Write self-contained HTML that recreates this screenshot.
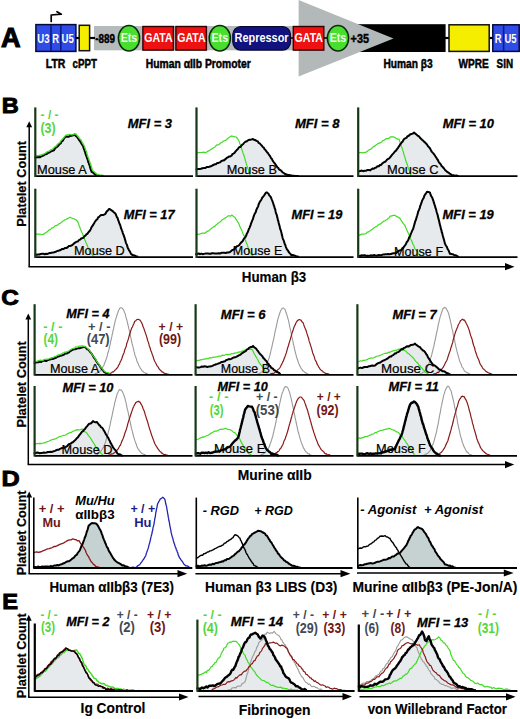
<!DOCTYPE html>
<html><head><meta charset="utf-8"><title>Figure</title>
<style>
html,body{margin:0;padding:0;background:#fff;width:520px;height:719px;overflow:hidden;}
svg text{font-family:"Liberation Sans", sans-serif;}
</style></head>
<body>
<svg width="520" height="719" viewBox="0 0 520 719" style="display:block">
<g font-family='"Liberation Sans", sans-serif'>
<text x="1.0" y="46.8" font-size="27.5" font-weight="bold" fill="#000" text-anchor="start" textLength="19.6" lengthAdjust="spacingAndGlyphs" stroke="#000" stroke-width="1.1">A</text>
<rect x="94" y="26" width="210" height="24.3" fill="#b5babb"/>
<rect x="330" y="24.2" width="115.6" height="27.8" fill="#000"/>
<polygon points="298.6,0 393.5,38.4 298.6,76.5" fill="#b3b8b9"/>
<line x1="75" y1="38" x2="80" y2="38" stroke="#000" stroke-width="2.2"/>
<line x1="89" y1="38" x2="95" y2="38" stroke="#000" stroke-width="2.2"/>
<line x1="444" y1="38" x2="449" y2="38" stroke="#000" stroke-width="2.2"/>
<line x1="489" y1="38" x2="493" y2="38" stroke="#000" stroke-width="2.2"/>
<rect x="35.9" y="24.6" width="40" height="26.8" fill="#2f4de6" stroke="#05083a" stroke-width="1.5"/>
<line x1="51" y1="25" x2="51" y2="51" stroke="#0c1a8a" stroke-width="1.6"/>
<line x1="60.8" y1="25" x2="60.8" y2="51" stroke="#0c1a8a" stroke-width="1.6"/>
<text x="37.3" y="43.0" font-size="12.5" font-weight="bold" fill="#fff" text-anchor="start" textLength="12.2" lengthAdjust="spacingAndGlyphs">U3</text>
<text x="52.3" y="43.0" font-size="12.5" font-weight="bold" fill="#fff" text-anchor="start" textLength="6.8" lengthAdjust="spacingAndGlyphs">R</text>
<text x="61.6" y="43.0" font-size="12.5" font-weight="bold" fill="#fff" text-anchor="start" textLength="12.2" lengthAdjust="spacingAndGlyphs">U5</text>
<path d="M51.2,21.4 V15.0 L61.3,14.2 L57.0,11.7" fill="none" stroke="#000" stroke-width="1.7" stroke-linejoin="round" stroke-linecap="round"/>
<rect x="79.2" y="25.3" width="10.4" height="25.4" fill="#f6ee00" stroke="#111" stroke-width="1.5"/>
<text x="95.2" y="43.3" font-size="12.8" font-weight="bold" fill="#000" text-anchor="start" textLength="19.8" lengthAdjust="spacingAndGlyphs" stroke="#000" stroke-width="0.45">-889</text>
<ellipse cx="129.0" cy="38.2" rx="10.6" ry="12.7" fill="#47de2e" stroke="#0a2a0a" stroke-width="1.5"/>
<text x="120.7" y="42.0" font-size="12.5" font-weight="bold" fill="#eefde8" text-anchor="start" textLength="16.6" lengthAdjust="spacingAndGlyphs">Ets</text>
<rect x="142.89999999999998" y="26.5" width="30.5" height="23.6" fill="#ee1111" stroke="#300" stroke-width="1.4"/>
<text x="144.2" y="42.0" font-size="12.5" font-weight="bold" fill="#fff" text-anchor="start" textLength="28.4" lengthAdjust="spacingAndGlyphs">GATA</text>
<rect x="175.89999999999998" y="26.5" width="30.5" height="23.6" fill="#ee1111" stroke="#300" stroke-width="1.4"/>
<text x="177.2" y="42.0" font-size="12.5" font-weight="bold" fill="#fff" text-anchor="start" textLength="28.4" lengthAdjust="spacingAndGlyphs">GATA</text>
<ellipse cx="219.8" cy="38.2" rx="10.6" ry="12.7" fill="#47de2e" stroke="#0a2a0a" stroke-width="1.5"/>
<text x="211.5" y="42.0" font-size="12.5" font-weight="bold" fill="#eefde8" text-anchor="start" textLength="16.6" lengthAdjust="spacingAndGlyphs">Ets</text>
<rect x="232.8" y="26.5" width="57.7" height="23.6" rx="8" ry="8" fill="#12127e" stroke="#050530" stroke-width="1.2"/>
<text x="234.6" y="42.0" font-size="12.5" font-weight="bold" fill="#fff" text-anchor="start" textLength="54.0" lengthAdjust="spacingAndGlyphs">Repressor</text>
<line x1="290.4" y1="38" x2="293.2" y2="38" stroke="#000" stroke-width="1.6"/>
<rect x="293.3" y="26.5" width="30.5" height="23.6" fill="#ee1111" stroke="#300" stroke-width="1.4"/>
<text x="294.6" y="42.0" font-size="12.5" font-weight="bold" fill="#fff" text-anchor="start" textLength="28.4" lengthAdjust="spacingAndGlyphs">GATA</text>
<line x1="323.8" y1="38" x2="327.6" y2="38" stroke="#000" stroke-width="1.6"/>
<ellipse cx="338.0" cy="38.2" rx="10.6" ry="12.7" fill="#47de2e" stroke="#0a2a0a" stroke-width="1.5"/>
<text x="329.7" y="42.0" font-size="12.5" font-weight="bold" fill="#eefde8" text-anchor="start" textLength="16.6" lengthAdjust="spacingAndGlyphs">Ets</text>
<text x="350.6" y="43.2" font-size="12.8" font-weight="bold" fill="#000" text-anchor="start" textLength="18.4" lengthAdjust="spacingAndGlyphs" stroke="#000" stroke-width="0.45">+35</text>
<rect x="449.0" y="24.8" width="40.2" height="26.6" fill="#f6ee00" stroke="#111" stroke-width="1.5"/>
<rect x="492.8" y="24.8" width="26.4" height="26.6" fill="#2f4de6" stroke="#05083a" stroke-width="1.5"/>
<line x1="503.6" y1="25" x2="503.6" y2="51" stroke="#0c1a8a" stroke-width="1.6"/>
<text x="494.8" y="42.8" font-size="12.5" font-weight="bold" fill="#fff" text-anchor="start" textLength="6.8" lengthAdjust="spacingAndGlyphs">R</text>
<text x="504.6" y="42.8" font-size="12.5" font-weight="bold" fill="#fff" text-anchor="start" textLength="12.0" lengthAdjust="spacingAndGlyphs">U5</text>
<text x="45.8" y="67.8" font-size="13.2" font-weight="bold" fill="#000" text-anchor="start" textLength="19.6" lengthAdjust="spacingAndGlyphs" stroke="#000" stroke-width="0.5">LTR</text>
<text x="72.6" y="67.8" font-size="13.2" font-weight="bold" fill="#000" text-anchor="start" textLength="24.4" lengthAdjust="spacingAndGlyphs" stroke="#000" stroke-width="0.5">cPPT</text>
<text x="145.8" y="67.8" font-size="13.2" font-weight="bold" fill="#000" text-anchor="start" textLength="105.0" lengthAdjust="spacingAndGlyphs" stroke="#000" stroke-width="0.5">Human &#945;IIb Promoter</text>
<text x="383.4" y="67.8" font-size="13.2" font-weight="bold" fill="#000" text-anchor="start" textLength="49.2" lengthAdjust="spacingAndGlyphs" stroke="#000" stroke-width="0.5">Human &#946;3</text>
<text x="458.6" y="67.8" font-size="13.2" font-weight="bold" fill="#000" text-anchor="start" textLength="30.2" lengthAdjust="spacingAndGlyphs" stroke="#000" stroke-width="0.5">WPRE</text>
<text x="496.6" y="67.8" font-size="13.2" font-weight="bold" fill="#000" text-anchor="start" textLength="16.4" lengthAdjust="spacingAndGlyphs" stroke="#000" stroke-width="0.5">SIN</text>
<text x="1.8" y="113.4" font-size="21.5" font-weight="bold" fill="#000" text-anchor="start" textLength="17.0" lengthAdjust="spacingAndGlyphs" stroke="#000" stroke-width="0.9">B</text>
<text transform="translate(26.0,226.7) rotate(-90)" x="0" y="0" font-size="13.2" font-weight="bold" stroke="#000" stroke-width="0.2" textLength="85.7" lengthAdjust="spacingAndGlyphs">Platelet Count</text>
<line x1="29.2" y1="126" x2="29.2" y2="266.7" stroke="#000" stroke-width="1.5"/>
<polygon points="29.2,121.3 26.3,127.3 32.1,127.3" fill="#000"/>
<line x1="28.5" y1="266.7" x2="506" y2="266.7" stroke="#000" stroke-width="1.5"/>
<polygon points="514.5,266.7 505.0,263.09999999999997 505.0,270.3" fill="#000"/>
<polygon points="35.5,176.2 35.5,157.5 40.0,157.2 45.4,154.6 53.0,150.8 60.8,143.0 65.4,137.0 70.0,136.2 74.6,134.6 79.2,140.0 83.0,146.0 86.2,155.4 89.2,164.6 91.5,171.5 96.0,175.0 102.0,175.8 102.0,176.2" fill="#e6eaec" stroke="none"/>
<polyline points="35.5,157.5 37.0,157.2 38.5,157.0 40.0,157.3 41.4,156.2 42.7,155.9 44.0,155.1 45.4,154.2 46.7,154.0 47.9,152.9 49.2,152.6 50.5,151.7 51.7,151.1 53.0,150.7 54.0,150.1 55.0,148.5 55.9,147.6 56.9,147.0 57.9,146.3 58.8,145.0 59.8,143.9 60.8,143.4 61.7,141.4 62.6,140.9 63.6,139.2 64.5,137.9 65.4,136.7 66.9,136.6 68.5,136.8 70.0,135.9 71.5,135.7 73.1,135.3 74.6,134.5 75.5,135.7 76.4,136.4 77.4,137.4 78.3,138.7 79.2,140.2 80.0,141.1 80.7,142.2 81.5,143.7 82.2,144.8 83.0,145.8 83.5,147.6 83.9,148.9 84.4,149.8 84.8,151.4 85.3,152.7 85.7,154.4 86.2,155.6 86.6,156.5 87.1,158.5 87.5,159.0 87.9,160.6 88.3,162.2 88.8,163.0 89.2,164.6 89.7,165.6 90.1,167.5 90.6,169.0 91.0,170.2 91.5,171.8 92.6,172.2 93.8,173.4 94.9,174.2 96.0,175.1 97.5,175.2 99.0,175.7 100.5,176.0 102.0,175.8" fill="none" stroke="#000" stroke-width="2.0" stroke-linejoin="round" stroke-linecap="round"/>
<polyline points="35.5,155.8 37.0,155.7 38.5,155.7 40.0,155.1 41.4,155.0 42.7,154.3 44.0,154.0 45.4,153.2 46.7,152.1 47.9,151.5 49.2,151.2 50.5,149.9 51.7,149.7 53.0,148.8 54.0,147.8 55.0,146.8 55.9,146.4 56.9,144.9 57.9,144.0 58.8,143.2 59.8,142.6 60.8,140.9 61.7,140.1 62.6,138.9 63.6,138.0 64.5,136.8 65.4,135.6 66.9,134.8 68.5,134.7 70.0,134.4 71.5,134.8 72.9,134.8 74.4,134.0 75.9,134.0 76.8,135.1 77.7,136.2 78.7,137.5 79.6,138.7 80.5,139.5 81.3,140.5 82.0,142.0 82.8,143.2 83.5,144.6 84.3,146.1 84.8,147.2 85.2,148.4 85.7,149.8 86.1,151.2 86.6,152.0 87.0,154.1 87.5,155.4 87.9,156.8 88.4,158.0 88.8,158.9 89.2,160.3 89.6,161.3 90.1,163.1 90.5,163.9 91.0,165.3 91.4,166.8 91.9,168.1 92.3,169.7 92.8,170.8 93.9,171.6 95.0,172.6 96.2,173.5 97.3,174.6 98.8,174.5 100.3,175.4 101.8,175.4 103.3,175.5" fill="none" stroke="#40dc24" stroke-width="1.3" stroke-linejoin="round" stroke-linecap="round"/>
<polygon points="196.5,176.2 196.5,169.2 205.4,167.7 214.6,164.6 223.8,160.0 231.5,155.4 237.7,149.2 242.3,144.6 245.4,141.5 248.5,140.3 253.0,139.2 257.7,141.5 263.8,147.7 268.0,153.5 274.0,162.4 279.0,169.3 285.0,173.9 292.0,175.6 298.0,176.0 298.0,176.2" fill="#e6eaec" stroke="none"/>
<polyline points="197.0,153.0 198.3,152.6 199.7,152.5 201.0,152.5 202.3,152.4 203.7,152.1 205.0,152.6 206.2,152.3 207.5,151.4 208.8,150.9 210.0,150.1 211.2,149.2 212.4,148.6 213.6,147.6 214.8,147.2 216.0,145.7 217.2,144.8 218.5,144.9 219.8,143.8 221.0,142.7 222.1,142.3 223.2,141.1 224.3,140.8 225.4,140.4 226.6,139.5 227.8,138.5 229.0,137.3 230.2,136.7 231.5,135.9 234.0,136.7 236.0,137.0 237.7,138.8 238.5,140.1 239.3,141.8 239.8,143.6 240.3,145.1 240.8,146.3 241.2,147.6 241.7,149.0 242.1,150.2 242.5,151.1 242.9,152.7 243.4,153.9 243.8,155.0 244.2,156.3 244.7,157.9 245.1,159.3 245.5,161.0 246.0,162.6 246.4,163.6 246.8,165.4 247.3,166.8 247.7,168.1 248.1,168.9 248.5,170.0 248.8,171.3 249.2,172.6 249.6,173.9 250.0,175.4" fill="none" stroke="#40dc24" stroke-width="1.2" stroke-linejoin="round" stroke-linecap="round"/>
<polyline points="196.5,169.2 198.0,169.1 199.5,169.1 200.9,168.8 202.4,168.2 203.9,168.1 205.4,168.0 206.7,166.9 208.0,167.0 209.3,166.7 210.7,166.2 212.0,165.7 213.3,165.0 214.6,164.3 215.9,164.2 217.2,163.1 218.5,162.9 219.9,162.4 221.2,161.2 222.5,160.6 223.8,160.4 225.1,159.4 226.4,158.2 227.7,157.4 228.9,156.6 230.2,156.5 231.5,155.7 232.5,154.0 233.6,153.6 234.6,152.7 235.6,151.4 236.7,150.1 237.7,149.2 238.6,147.9 239.5,146.9 240.5,146.9 241.4,145.7 242.3,144.6 243.3,144.0 244.4,142.5 245.4,141.8 246.9,141.2 248.5,140.0 250.0,139.7 251.5,139.4 253.0,139.0 254.2,139.9 255.3,140.1 256.5,140.9 257.7,141.2 258.7,142.9 259.7,143.4 260.8,144.6 261.8,145.7 262.8,147.0 263.8,147.6 264.6,149.2 265.5,150.0 266.3,151.2 267.2,152.4 268.0,153.1 268.8,154.6 269.5,155.4 270.2,156.4 271.0,158.2 271.8,158.8 272.5,160.2 273.2,161.5 274.0,162.5 274.8,163.4 275.7,164.7 276.5,165.9 277.3,167.3 278.2,167.8 279.0,169.4 280.2,170.0 281.4,170.9 282.6,172.3 283.8,173.0 285.0,174.0 286.4,174.5 287.8,175.0 289.2,174.9 290.6,175.4 292.0,175.6 293.5,175.7 295.0,176.0 296.5,175.9 298.0,176.0" fill="none" stroke="#000" stroke-width="2.0" stroke-linejoin="round" stroke-linecap="round"/>
<polygon points="359.0,176.2 359.0,171.2 370.0,170.2 380.0,165.4 390.0,157.7 398.0,148.0 404.0,139.4 410.0,134.6 414.0,132.7 418.0,135.5 421.0,138.5 428.0,146.0 435.0,155.8 440.0,163.5 445.0,170.2 452.0,175.5 458.0,176.0 458.0,176.2" fill="#e6eaec" stroke="none"/>
<polyline points="358.5,152.9 360.0,152.7 361.5,152.5 363.0,152.8 364.5,152.4 366.0,152.3 367.1,151.6 368.2,150.3 369.4,149.8 370.5,149.4 371.6,148.6 372.8,147.2 373.9,146.4 375.0,145.9 376.1,144.9 377.2,144.3 378.3,143.4 379.4,143.2 380.6,142.6 381.7,142.0 382.8,140.6 383.9,140.3 385.0,139.5 386.4,138.5 387.8,138.6 389.2,138.1 390.6,136.8 392.0,136.9 393.5,136.9 395.0,137.5 396.3,138.6 397.7,139.1 399.0,139.1 399.4,140.6 399.9,141.9 400.3,142.9 400.7,144.0 401.1,145.4 401.6,147.0 402.0,147.6 402.4,149.4 402.9,150.7 403.3,151.7 403.7,153.4 404.1,155.0 404.6,156.3 405.0,157.3 405.4,159.5 405.9,160.7 406.3,162.2 406.7,162.8 407.1,164.3 407.6,165.5 408.0,167.6 408.5,168.5 409.0,169.7 409.5,171.3 410.0,173.1 410.5,174.4 411.0,175.5" fill="none" stroke="#40dc24" stroke-width="1.2" stroke-linejoin="round" stroke-linecap="round"/>
<polyline points="359.0,171.2 360.4,170.9 361.8,170.6 363.1,171.2 364.5,170.8 365.9,170.8 367.2,170.1 368.6,169.9 370.0,170.4 371.2,169.5 372.5,168.6 373.8,168.8 375.0,167.9 376.2,167.5 377.5,166.2 378.8,166.3 380.0,165.0 381.1,164.9 382.2,163.6 383.3,162.7 384.4,162.0 385.6,161.5 386.7,160.1 387.8,159.1 388.9,158.6 390.0,157.5 390.9,156.3 391.8,155.2 392.7,154.1 393.6,153.1 394.4,152.1 395.3,151.1 396.2,150.4 397.1,148.9 398.0,148.0 398.8,146.6 399.5,145.7 400.2,144.3 401.0,143.5 401.8,142.2 402.5,141.8 403.2,140.5 404.0,139.1 405.2,138.4 406.4,137.9 407.6,136.2 408.8,135.8 410.0,134.5 411.3,134.0 412.7,133.6 414.0,132.6 415.3,133.6 416.7,134.7 418.0,135.9 419.0,136.4 420.0,137.8 421.0,138.7 422.0,139.7 423.0,140.6 424.0,141.6 425.0,142.4 426.0,143.5 427.0,144.5 428.0,146.2 428.8,146.9 429.6,147.9 430.3,148.9 431.1,150.7 431.9,151.8 432.7,152.7 433.4,153.4 434.2,154.5 435.0,155.6 435.7,156.9 436.4,157.7 437.1,159.1 437.9,160.0 438.6,161.7 439.3,162.8 440.0,163.5 440.8,164.4 441.7,166.2 442.5,166.7 443.3,167.8 444.2,168.6 445.0,170.1 446.2,171.1 447.3,172.0 448.5,172.6 449.7,173.7 450.8,174.2 452.0,175.3 453.5,175.3 455.0,175.7 456.5,175.5 458.0,176.0" fill="none" stroke="#000" stroke-width="2.0" stroke-linejoin="round" stroke-linecap="round"/>
<polygon points="35.4,257.2 35.4,254.6 48.8,253.7 58.5,250.8 70.0,246.0 77.7,241.2 83.5,237.3 89.2,231.5 95.0,221.9 99.8,215.7 104.6,214.2 107.5,210.9 109.4,208.5 112.3,210.9 115.2,213.8 117.6,218.1 119.5,223.8 121.4,228.7 123.8,235.4 125.8,242.1 128.2,248.8 131.0,253.7 134.4,255.6 137.3,256.5 137.3,257.2" fill="#e6eaec" stroke="none"/>
<polyline points="35.4,234.4 36.9,234.0 38.4,234.2 40.0,234.2 41.5,234.5 43.0,234.4 44.1,233.9 45.2,233.1 46.2,232.4 47.3,231.8 48.4,230.6 49.5,229.8 50.5,229.6 51.6,228.1 52.7,227.9 54.0,227.0 55.3,225.7 56.5,225.6 57.8,224.9 59.1,223.8 60.4,223.1 61.6,222.4 62.7,221.0 63.9,220.6 65.0,219.8 66.2,219.3 67.5,218.6 68.7,218.0 70.0,217.2 71.6,218.1 73.2,218.5 74.8,219.2 75.8,219.7 76.7,220.5 77.7,221.6 78.2,223.1 78.8,224.3 79.3,226.3 79.9,227.4 80.4,228.9 81.0,230.2 81.5,231.7 82.0,232.7 82.5,233.5 83.0,235.4 83.5,236.6 83.9,237.6 84.4,238.8 84.9,240.1 85.4,240.8 85.9,242.7 86.5,243.5 87.0,244.7 87.5,246.1 88.1,247.8 88.6,248.6 89.1,250.4 89.7,251.9 90.2,252.7 91.2,253.5 92.1,254.6 93.0,255.7 94.0,256.5" fill="none" stroke="#40dc24" stroke-width="1.2" stroke-linejoin="round" stroke-linecap="round"/>
<polyline points="35.4,254.6 36.7,254.8 38.1,254.5 39.4,254.5 40.8,253.9 42.1,253.8 43.4,253.8 44.8,254.2 46.1,253.7 47.5,253.9 48.8,253.3 50.2,252.9 51.6,252.7 53.0,252.6 54.3,252.2 55.7,251.8 57.1,251.0 58.5,250.8 59.8,250.2 61.1,249.7 62.3,248.9 63.6,249.0 64.9,247.9 66.2,248.0 67.4,247.5 68.7,246.1 70.0,246.0 71.3,245.5 72.6,244.8 73.8,243.6 75.1,242.6 76.4,241.7 77.7,241.6 78.9,240.2 80.0,239.7 81.2,238.5 82.3,238.1 83.5,237.7 84.5,236.0 85.4,235.7 86.3,234.4 87.3,233.8 88.2,232.6 89.2,231.3 89.9,230.7 90.7,229.1 91.4,227.5 92.1,226.3 92.8,225.5 93.5,224.3 94.3,222.9 95.0,221.6 95.8,220.7 96.6,219.7 97.4,219.1 98.2,217.3 99.0,217.0 99.8,216.0 101.4,214.9 103.0,215.1 104.6,214.4 105.6,213.5 106.5,211.8 107.5,210.8 108.5,209.6 109.4,208.9 110.8,209.8 112.3,210.8 113.3,211.8 114.2,212.6 115.2,213.3 116.0,214.8 116.8,217.0 117.6,217.9 118.1,219.9 118.5,220.7 119.0,222.2 119.5,223.8 120.0,224.7 120.5,226.1 120.9,227.9 121.4,229.0 121.9,230.3 122.4,231.5 122.8,233.1 123.3,234.5 123.8,235.4 124.2,236.9 124.6,237.7 125.0,239.6 125.4,240.7 125.8,242.3 126.3,243.6 126.8,244.6 127.2,245.7 127.7,247.8 128.2,248.5 128.9,250.0 129.6,251.1 130.3,252.3 131.0,253.9 132.7,255.1 134.4,255.4 135.9,256.2 137.3,256.5" fill="none" stroke="#000" stroke-width="2.0" stroke-linejoin="round" stroke-linecap="round"/>
<polygon points="196.0,257.2 196.0,254.0 220.0,253.4 230.0,252.0 239.2,245.0 245.4,237.3 250.0,226.5 254.6,214.2 259.2,203.5 262.3,197.3 266.9,191.9 270.8,197.3 273.8,205.0 276.9,215.8 280.0,228.0 283.0,238.8 286.9,249.6 291.5,255.0 298.0,256.6 298.0,257.2" fill="#e6eaec" stroke="none"/>
<polyline points="196.0,234.8 197.3,234.4 198.6,234.3 199.9,233.9 201.1,233.5 202.4,233.2 203.7,233.0 205.0,233.4 206.1,232.2 207.2,231.2 208.3,231.1 209.4,230.4 210.6,229.2 211.7,228.1 212.8,227.4 213.9,226.6 215.0,226.1 216.0,224.9 217.0,224.2 218.0,223.3 219.0,222.7 220.0,222.1 221.0,221.1 222.0,219.9 223.2,219.2 224.4,218.5 225.6,217.7 226.8,216.9 228.0,215.9 229.3,215.8 230.7,216.1 232.0,215.1 233.5,216.5 235.0,217.6 235.7,219.0 236.4,219.6 237.1,220.8 237.8,221.9 238.5,223.2 239.2,224.5 239.7,226.1 240.2,227.2 240.7,228.4 241.2,228.9 241.8,230.1 242.3,231.9 242.8,233.3 243.3,234.1 243.8,235.4 244.2,236.1 244.7,237.7 245.1,239.4 245.6,240.6 246.0,241.8 246.5,243.2 246.9,243.8 247.4,245.1 247.8,246.6 248.3,248.3 248.7,249.9 249.2,251.6 250.0,252.5 250.7,253.5 251.5,254.6 252.2,255.4 253.0,256.5" fill="none" stroke="#40dc24" stroke-width="1.2" stroke-linejoin="round" stroke-linecap="round"/>
<polyline points="196.0,254.0 197.3,254.0 198.7,253.5 200.0,254.2 201.3,253.6 202.7,254.2 204.0,253.9 205.3,253.6 206.7,253.4 208.0,253.5 209.3,253.8 210.7,253.8 212.0,253.3 213.3,253.2 214.7,253.6 216.0,253.6 217.3,253.4 218.7,253.2 220.0,253.5 221.4,252.8 222.9,252.8 224.3,252.8 225.7,253.0 227.1,252.5 228.6,252.5 230.0,252.0 231.2,250.9 232.3,250.0 233.4,249.8 234.6,248.7 235.8,247.5 236.9,246.3 238.0,245.9 239.2,245.2 240.1,243.8 241.0,242.6 241.9,241.9 242.7,241.0 243.6,239.3 244.5,238.0 245.4,237.2 245.9,236.0 246.4,235.1 246.9,233.4 247.4,232.8 248.0,231.5 248.5,230.1 249.0,228.6 249.5,228.1 250.0,226.3 250.5,225.6 250.9,223.8 251.4,222.6 251.8,221.8 252.3,220.2 252.8,219.5 253.2,217.9 253.7,216.4 254.1,215.2 254.6,214.1 255.2,213.0 255.8,211.9 256.3,209.9 256.9,208.8 257.5,207.3 258.1,206.6 258.6,204.5 259.2,203.1 259.8,201.9 260.4,200.9 261.1,200.1 261.7,198.9 262.3,197.5 263.2,196.7 264.1,195.5 265.1,193.9 266.0,192.7 266.9,192.3 267.7,193.2 268.5,193.6 269.2,195.3 270.0,196.1 270.8,197.2 271.3,198.4 271.8,199.6 272.3,200.7 272.8,202.2 273.3,203.6 273.8,205.4 274.2,206.0 274.6,208.1 275.0,208.8 275.4,210.3 275.7,212.0 276.1,213.4 276.5,214.4 276.9,215.4 277.2,217.1 277.6,218.4 277.9,220.2 278.3,220.9 278.6,222.5 279.0,224.3 279.3,224.9 279.7,226.6 280.0,228.3 280.4,229.6 280.8,230.3 281.1,231.6 281.5,233.0 281.9,235.1 282.2,235.9 282.6,237.7 283.0,239.2 283.5,240.0 284.0,241.3 284.5,243.3 284.9,244.3 285.4,245.3 285.9,247.1 286.4,248.1 286.9,249.4 287.8,250.2 288.7,252.0 289.7,253.2 290.6,254.0 291.5,255.4 292.8,254.9 294.1,255.4 295.4,255.9 296.7,256.7 298.0,256.6" fill="none" stroke="#000" stroke-width="2.0" stroke-linejoin="round" stroke-linecap="round"/>
<polygon points="358.5,257.2 358.5,255.8 380.0,255.2 395.0,253.5 403.0,248.6 408.0,240.5 413.0,229.0 418.0,212.7 422.0,201.2 425.0,194.7 427.0,191.4 430.0,193.0 433.0,199.6 437.0,212.7 441.0,229.0 445.0,243.7 450.0,253.5 458.0,256.6 458.0,257.2" fill="#e6eaec" stroke="none"/>
<polyline points="358.5,234.9 359.8,235.1 361.1,234.4 362.4,234.1 363.7,234.1 365.0,234.0 366.1,233.7 367.2,232.2 368.3,232.1 369.4,231.3 370.6,230.6 371.7,229.8 372.8,229.0 373.9,228.0 375.0,227.2 376.1,226.5 377.2,226.2 378.3,224.8 379.4,224.2 380.6,224.0 381.7,222.8 382.8,221.9 383.9,221.1 385.0,220.8 386.0,219.8 387.0,219.6 388.0,218.6 389.0,217.9 390.0,216.4 391.7,215.8 393.3,215.4 395.0,215.3 396.2,216.3 397.5,216.9 398.8,217.5 400.0,218.5 400.8,219.9 401.7,221.2 402.5,222.4 403.3,223.7 404.2,224.7 405.0,225.5 405.6,227.4 406.1,228.1 406.7,229.7 407.2,230.8 407.8,232.3 408.3,233.1 408.9,234.4 409.4,235.7 410.0,236.9 410.6,238.8 411.1,239.8 411.7,240.8 412.2,242.2 412.8,244.0 413.3,244.8 413.9,245.8 414.4,247.6 415.0,248.7 415.8,250.2 416.7,250.5 417.5,252.0 418.3,253.5 419.2,254.7 420.0,255.5" fill="none" stroke="#40dc24" stroke-width="1.2" stroke-linejoin="round" stroke-linecap="round"/>
<polyline points="358.5,255.8 359.8,256.1 361.2,255.3 362.5,255.5 363.9,255.3 365.2,255.3 366.6,256.0 367.9,255.6 369.2,255.9 370.6,255.3 371.9,255.8 373.3,255.3 374.6,255.1 376.0,255.6 377.3,255.7 378.7,254.9 380.0,255.3 381.4,255.2 382.7,254.6 384.1,254.6 385.5,254.3 386.8,254.2 388.2,254.1 389.5,254.2 390.9,254.1 392.3,253.5 393.6,253.2 395.0,253.3 396.1,253.0 397.3,251.8 398.4,251.2 399.6,250.4 400.7,250.3 401.9,249.3 403.0,248.2 403.7,247.1 404.4,246.2 405.1,245.2 405.9,244.1 406.6,242.4 407.3,241.4 408.0,240.7 408.6,239.1 409.1,237.7 409.7,236.5 410.2,235.8 410.8,233.9 411.3,232.9 411.9,231.4 412.4,230.2 413.0,229.3 413.4,228.2 413.8,226.4 414.2,225.0 414.5,224.2 414.9,222.5 415.3,221.0 415.7,220.6 416.1,218.9 416.5,218.0 416.8,216.4 417.2,215.6 417.6,213.9 418.0,212.4 418.4,211.0 418.9,210.2 419.3,209.0 419.8,208.0 420.2,205.9 420.7,205.1 421.1,203.6 421.6,202.5 422.0,200.9 422.6,199.7 423.2,198.6 423.8,197.7 424.4,195.6 425.0,194.7 426.0,193.3 427.0,191.8 428.5,191.9 430.0,192.7 430.6,194.7 431.2,196.1 431.8,196.9 432.4,197.9 433.0,200.0 433.4,200.8 433.8,202.6 434.2,203.6 434.6,205.1 435.0,205.8 435.4,207.7 435.8,208.5 436.2,210.0 436.6,211.7 437.0,213.0 437.3,213.8 437.7,215.2 438.0,216.7 438.3,218.1 438.7,219.4 439.0,220.5 439.3,222.0 439.7,223.8 440.0,225.3 440.3,225.9 440.7,227.7 441.0,229.2 441.4,229.9 441.7,232.0 442.1,232.7 442.5,234.4 442.8,235.7 443.2,237.1 443.5,238.2 443.9,239.6 444.3,241.1 444.6,242.3 445.0,243.8 445.6,244.9 446.2,246.1 446.9,246.9 447.5,248.7 448.1,249.8 448.8,250.8 449.4,252.5 450.0,253.8 451.3,254.0 452.7,254.2 454.0,255.0 455.3,255.2 456.7,255.7 458.0,256.6" fill="none" stroke="#000" stroke-width="2.0" stroke-linejoin="round" stroke-linecap="round"/>
<line x1="35.3" y1="176.2" x2="193.0" y2="176.2" stroke="#000" stroke-width="1.8"/>
<line x1="196.5" y1="176.2" x2="353.5" y2="176.2" stroke="#000" stroke-width="1.8"/>
<line x1="358.2" y1="176.2" x2="517.5" y2="176.2" stroke="#000" stroke-width="1.8"/>
<line x1="35.3" y1="107.4" x2="35.3" y2="177.0" stroke="#163816" stroke-width="2.2"/>
<line x1="196.5" y1="107.4" x2="196.5" y2="177.0" stroke="#163816" stroke-width="2.2"/>
<line x1="358.2" y1="107.4" x2="358.2" y2="177.0" stroke="#163816" stroke-width="2.2"/>
<line x1="35.3" y1="257.2" x2="193.0" y2="257.2" stroke="#000" stroke-width="1.8"/>
<line x1="196.5" y1="257.2" x2="353.5" y2="257.2" stroke="#000" stroke-width="1.8"/>
<line x1="358.2" y1="257.2" x2="517.5" y2="257.2" stroke="#000" stroke-width="1.8"/>
<line x1="35.3" y1="188.7" x2="35.3" y2="258.0" stroke="#163816" stroke-width="2.2"/>
<line x1="196.5" y1="188.7" x2="196.5" y2="258.0" stroke="#163816" stroke-width="2.2"/>
<line x1="358.2" y1="188.7" x2="358.2" y2="258.0" stroke="#163816" stroke-width="2.2"/>
<text x="40.6" y="118.6" font-size="12.5" font-weight="bold" fill="#55d63a" text-anchor="start" textLength="18.0" lengthAdjust="spacingAndGlyphs">- / -</text>
<text x="40.4" y="133.2" font-size="14.5" font-weight="bold" fill="#55d63a" text-anchor="start" textLength="15.2" lengthAdjust="spacingAndGlyphs">(3)</text>
<text x="127.8" y="128.3" font-size="13.4" font-weight="bold" font-style="italic" fill="#000" text-anchor="start" textLength="44.2" lengthAdjust="spacingAndGlyphs" stroke="#000" stroke-width="0.3">MFI = 3</text>
<text x="295.0" y="128.3" font-size="13.4" font-weight="bold" font-style="italic" fill="#000" text-anchor="start" textLength="44.6" lengthAdjust="spacingAndGlyphs" stroke="#000" stroke-width="0.3">MFI = 8</text>
<text x="442.7" y="128.1" font-size="13.4" font-weight="bold" font-style="italic" fill="#000" text-anchor="start" textLength="51.3" lengthAdjust="spacingAndGlyphs" stroke="#000" stroke-width="0.3">MFI = 10</text>
<text x="123.8" y="218.60000000000002" font-size="13.4" font-weight="bold" font-style="italic" fill="#000" text-anchor="start" textLength="50.8" lengthAdjust="spacingAndGlyphs" stroke="#000" stroke-width="0.3">MFI = 17</text>
<text x="291.5" y="218.60000000000002" font-size="13.4" font-weight="bold" font-style="italic" fill="#000" text-anchor="start" textLength="50.8" lengthAdjust="spacingAndGlyphs" stroke="#000" stroke-width="0.3">MFI = 19</text>
<text x="442.5" y="218.60000000000002" font-size="13.4" font-weight="bold" font-style="italic" fill="#000" text-anchor="start" textLength="51.3" lengthAdjust="spacingAndGlyphs" stroke="#000" stroke-width="0.3">MFI = 19</text>
<text x="37.0" y="173.6" font-size="12.2" font-weight="normal" fill="#000" text-anchor="start" textLength="49.8" lengthAdjust="spacingAndGlyphs" stroke="#000" stroke-width="0.2">Mouse A</text>
<text x="226.7" y="173.8" font-size="12.2" font-weight="normal" fill="#000" text-anchor="start" textLength="50.2" lengthAdjust="spacingAndGlyphs" stroke="#000" stroke-width="0.2">Mouse B</text>
<text x="387.0" y="173.8" font-size="12.2" font-weight="normal" fill="#000" text-anchor="start" textLength="51.5" lengthAdjust="spacingAndGlyphs" stroke="#000" stroke-width="0.2">Mouse C</text>
<text x="74.0" y="255.3" font-size="12.2" font-weight="normal" fill="#000" text-anchor="start" textLength="50.8" lengthAdjust="spacingAndGlyphs" stroke="#000" stroke-width="0.2">Mouse D</text>
<text x="232.8" y="255.2" font-size="12.2" font-weight="normal" fill="#000" text-anchor="start" textLength="49.5" lengthAdjust="spacingAndGlyphs" stroke="#000" stroke-width="0.2">Mouse E</text>
<text x="394.0" y="255.6" font-size="12.2" font-weight="normal" fill="#000" text-anchor="start" textLength="49.1" lengthAdjust="spacingAndGlyphs" stroke="#000" stroke-width="0.2">Mouse F</text>
<text x="241.8" y="281.6" font-size="14" font-weight="bold" fill="#000" text-anchor="start" textLength="64.5" lengthAdjust="spacingAndGlyphs" stroke="#000" stroke-width="0.15">Human &#946;3</text>
<text x="1.2" y="304.9" font-size="22" font-weight="bold" fill="#000" text-anchor="start" textLength="17.6" lengthAdjust="spacingAndGlyphs" stroke="#000" stroke-width="0.9">C</text>
<text transform="translate(25.6,427.5) rotate(-90)" x="0" y="0" font-size="13.2" font-weight="bold" stroke="#000" stroke-width="0.2" textLength="86.2" lengthAdjust="spacingAndGlyphs">Platelet Count</text>
<line x1="28.3" y1="319" x2="28.3" y2="464.4" stroke="#000" stroke-width="1.5"/>
<polygon points="28.3,313.6 25.400000000000002,319.6 31.2,319.6" fill="#000"/>
<line x1="27.6" y1="464.4" x2="506" y2="464.4" stroke="#000" stroke-width="1.5"/>
<polygon points="514.3,464.6 505.0,461.0 505.0,468.20000000000005" fill="#000"/>
<polygon points="34.6,374.8 34.6,363.1 42.3,361.5 50.0,360.0 57.7,356.9 65.4,353.8 71.5,350.8 76.2,348.5 80.8,347.7 84.6,347.2 88.5,350.0 91.5,353.8 94.6,358.5 97.7,363.1 100.8,367.7 103.8,371.5 106.9,373.8 110.0,374.6 110.0,374.8" fill="#e6eaec" stroke="none"/>
<polyline points="94.7,374.1 95.3,373.8 96.0,373.3 96.7,373.3 97.3,373.1 98.0,372.2 98.7,372.3 99.3,371.3 100.0,371.2 100.6,370.5 101.3,369.5 102.0,368.1 102.6,367.4 103.3,366.0 104.0,365.2 104.6,362.9 105.3,361.8 105.9,360.1 106.6,357.8 107.3,355.6 107.9,352.7 108.3,352.2 108.6,350.4 108.9,349.5 109.3,348.2 109.6,346.1 109.9,345.2 110.3,343.9 110.6,341.7 110.9,340.5 111.3,339.3 111.6,337.3 111.9,336.4 112.2,334.3 112.6,333.3 112.9,331.2 113.2,330.0 113.6,328.9 113.9,326.7 114.2,325.3 114.6,324.1 114.9,322.5 115.2,320.9 115.6,319.7 115.9,318.4 116.6,316.6 117.2,314.2 117.9,312.5 118.5,310.3 119.2,309.5 119.9,308.0 120.5,307.8 121.2,307.7 121.9,307.7 122.5,308.7 123.2,309.3 123.9,310.6 124.5,312.5 125.2,313.7 125.8,316.7 126.5,318.8 126.8,319.9 127.2,321.6 127.5,322.5 127.8,324.5 128.2,325.6 128.5,326.9 128.8,328.7 129.2,329.9 129.5,331.2 129.8,333.2 130.2,334.1 130.5,336.4 130.8,337.4 131.1,339.2 131.5,341.0 131.8,342.2 132.1,343.7 132.5,344.8 132.8,345.9 133.1,347.4 133.5,348.8 133.8,350.6 134.1,351.7 134.5,353.0 135.1,355.7 135.8,357.2 136.5,359.4 137.1,361.6 137.8,362.8 138.4,364.3 139.1,366.0 139.8,367.0 140.4,368.4 141.1,369.2 141.8,370.4 142.4,371.1 143.1,371.4 143.7,372.3 144.4,372.6 145.1,372.7 145.7,373.8 146.4,373.4 147.1,373.6 147.7,374.1" fill="none" stroke="#9a9a9a" stroke-width="1.1" stroke-linejoin="round" stroke-linecap="round"/>
<polyline points="107.3,374.2 108.0,373.7 108.8,374.0 109.6,374.0 110.3,373.6 111.1,372.9 111.8,372.4 112.6,371.8 113.4,371.8 114.1,371.1 114.9,370.2 115.7,369.7 116.4,368.6 117.2,368.1 118.0,366.7 118.7,365.0 119.5,364.2 120.2,361.9 121.0,360.6 121.8,358.7 122.5,356.5 123.3,354.3 124.1,352.7 124.8,349.7 125.6,347.8 126.4,345.7 126.7,343.7 127.1,342.5 127.5,341.7 127.9,340.3 128.3,339.2 128.6,338.1 129.4,335.0 130.2,332.7 130.9,330.4 131.7,328.0 132.5,326.8 133.2,324.9 134.0,323.3 134.7,321.3 135.5,321.0 136.3,320.1 137.0,319.4 137.8,319.5 138.6,319.4 139.3,319.7 140.1,320.3 140.9,321.5 141.6,322.7 142.4,324.5 143.1,326.7 143.9,328.6 144.7,330.9 145.4,333.1 146.2,335.1 147.0,337.8 147.3,339.0 147.7,340.6 148.1,341.6 148.5,342.6 148.9,344.2 149.2,345.7 150.0,347.5 150.8,350.5 151.5,352.1 152.3,354.5 153.1,356.5 153.8,359.0 154.6,361.0 155.4,362.5 156.1,363.7 156.9,365.6 157.6,366.4 158.4,367.4 159.2,369.0 159.9,369.7 160.7,370.6 161.5,371.2 162.2,372.1 163.0,372.2 163.8,373.0 164.5,373.2 165.3,373.7 166.0,373.6 166.8,374.0 167.6,374.1 168.3,374.2" fill="none" stroke="#8a1a1a" stroke-width="1.2" stroke-linejoin="round" stroke-linecap="round"/>
<polyline points="34.6,363.1 35.9,362.7 37.2,362.3 38.5,362.4 39.7,361.7 41.0,362.1 42.3,361.2 43.6,360.8 44.9,360.6 46.1,361.1 47.4,360.4 48.7,359.9 50.0,359.6 51.3,359.1 52.6,359.1 53.9,358.6 55.1,358.1 56.4,357.6 57.7,356.5 59.0,356.5 60.3,355.7 61.6,355.6 62.8,355.1 64.1,354.7 65.4,353.4 66.6,353.5 67.8,353.0 69.1,352.4 70.3,351.0 71.5,350.5 72.7,349.9 73.8,349.2 75.0,349.4 76.2,348.8 77.7,348.4 79.3,348.3 80.8,347.8 82.7,347.3 84.6,346.8 85.9,347.8 87.2,349.3 88.5,349.7 89.5,351.1 90.5,352.5 91.5,353.4 92.3,354.8 93.0,356.0 93.8,357.5 94.6,358.4 95.4,359.5 96.2,361.2 96.9,362.0 97.7,363.4 98.5,364.4 99.2,365.0 100.0,366.5 100.8,367.6 101.8,369.2 102.8,370.1 103.8,371.7 105.3,372.7 106.9,373.5 108.5,374.5 110.0,374.6" fill="none" stroke="#000" stroke-width="1.9" stroke-linejoin="round" stroke-linecap="round"/>
<polyline points="34.1,361.8 35.4,361.2 36.7,361.6 38.0,360.7 39.2,360.3 40.5,360.2 41.8,360.4 43.1,360.4 44.4,359.3 45.6,359.4 46.9,359.2 48.2,359.2 49.5,358.4 50.8,358.2 52.1,357.5 53.4,357.4 54.6,356.4 55.9,356.5 57.2,355.4 58.5,354.8 59.8,354.7 61.1,354.0 62.3,353.2 63.6,353.1 64.9,352.1 66.1,352.2 67.3,351.5 68.6,351.0 69.8,350.2 71.0,349.4 72.2,348.8 73.3,348.3 74.5,348.1 75.7,346.8 77.2,347.3 78.8,346.2 80.3,346.1 82.2,345.9 84.1,346.3 85.4,346.8 86.7,347.7 88.0,349.0 89.0,349.7 90.0,351.2 91.0,352.5 91.8,353.9 92.5,355.1 93.3,356.2 94.1,357.1 94.9,358.2 95.7,359.2 96.4,361.0 97.2,361.9 98.0,363.2 98.8,363.8 99.5,365.2 100.3,366.6 101.3,367.7 102.3,368.6 103.3,370.2 104.8,371.7 106.4,372.3 108.0,372.6 109.5,373.3" fill="none" stroke="#40dc24" stroke-width="1.2" stroke-linejoin="round" stroke-linecap="round"/>
<polygon points="196.5,374.8 196.5,367.3 210.0,366.4 225.0,361.0 240.0,355.0 248.0,349.0 253.0,345.8 258.0,351.0 265.0,360.0 272.0,368.5 280.0,374.0 280.0,374.8" fill="#e6eaec" stroke="none"/>
<polyline points="257.8,374.1 258.4,373.7 259.1,373.8 259.7,373.7 260.3,372.7 260.9,372.4 261.6,372.0 262.2,371.5 262.8,371.1 263.5,370.0 264.1,369.3 264.7,368.2 265.4,367.9 266.0,366.4 266.6,364.5 267.2,363.7 267.9,361.2 268.5,359.6 269.1,358.1 269.8,355.7 270.4,353.3 271.0,350.5 271.3,349.0 271.7,348.1 272.0,346.2 272.3,344.9 272.6,343.6 272.9,341.9 273.2,340.7 273.6,339.6 273.9,338.0 274.2,336.3 274.5,334.9 274.8,333.2 275.1,331.4 275.4,330.3 275.8,328.7 276.1,327.5 276.4,326.2 276.7,324.3 277.0,323.1 277.3,321.8 277.6,320.2 278.0,318.8 278.6,316.8 279.2,314.8 279.9,312.8 280.5,311.1 281.1,310.0 281.7,308.9 282.4,308.3 283.0,308.0 283.6,308.0 284.3,308.9 284.9,309.3 285.5,310.9 286.1,312.8 286.8,314.6 287.4,316.7 288.0,318.8 288.4,320.2 288.7,321.6 289.0,323.1 289.3,324.3 289.6,326.0 289.9,327.7 290.2,328.5 290.6,330.4 290.9,332.0 291.2,333.2 291.5,334.8 291.8,336.7 292.1,337.4 292.4,339.4 292.8,340.5 293.1,342.5 293.4,344.1 293.7,345.2 294.0,346.2 294.3,348.0 294.7,349.3 295.0,350.8 295.6,353.1 296.2,355.6 296.9,358.0 297.5,359.7 298.1,361.5 298.8,363.7 299.4,364.6 300.0,366.4 300.6,367.3 301.3,368.8 301.9,369.1 302.5,370.8 303.2,370.9 303.8,371.3 304.4,372.0 305.1,372.6 305.7,372.6 306.3,373.3 306.9,373.6 307.6,374.1 308.2,374.1" fill="none" stroke="#9a9a9a" stroke-width="1.1" stroke-linejoin="round" stroke-linecap="round"/>
<polyline points="270.1,374.2 270.8,373.9 271.6,373.6 272.3,373.4 273.0,373.6 273.8,373.4 274.5,372.7 275.2,372.0 276.0,372.0 276.7,371.0 277.4,370.1 278.2,369.3 278.9,369.0 279.7,368.0 280.4,366.7 281.1,365.3 281.9,363.9 282.6,362.1 283.3,361.1 284.1,358.7 284.8,357.0 285.5,355.1 286.3,352.9 287.0,350.3 287.7,347.7 288.5,345.5 289.2,342.7 289.6,342.0 289.9,340.4 290.3,339.5 290.7,337.8 291.4,335.4 292.1,332.9 292.9,330.8 293.6,328.4 294.4,326.3 295.1,325.1 295.8,323.2 296.6,321.8 297.3,320.8 298.0,320.2 298.8,319.7 299.5,319.7 300.2,319.9 301.0,320.1 301.7,321.4 302.4,322.3 303.2,322.9 303.9,325.2 304.6,327.1 305.4,328.9 306.1,330.5 306.9,333.4 307.6,335.6 308.3,337.5 308.7,338.8 309.1,340.9 309.4,341.9 309.8,342.8 310.5,345.1 311.3,347.6 312.0,350.1 312.7,352.9 313.5,354.7 314.2,356.6 314.9,359.2 315.7,360.9 316.4,362.0 317.1,364.2 317.9,365.4 318.6,366.8 319.3,367.8 320.1,369.1 320.8,369.9 321.6,370.7 322.3,370.8 323.0,371.9 323.8,372.2 324.5,372.9 325.2,373.0 326.0,373.7 326.7,373.7 327.4,373.6 328.2,373.8 328.9,374.2" fill="none" stroke="#8a1a1a" stroke-width="1.2" stroke-linejoin="round" stroke-linecap="round"/>
<polyline points="196.5,361.0 197.8,360.4 199.2,360.4 200.6,359.7 201.9,359.8 203.2,359.2 204.6,359.2 205.9,358.9 207.3,358.6 208.7,358.6 210.0,357.6 211.4,358.0 212.7,357.4 214.1,357.2 215.5,357.1 216.8,356.9 218.2,356.3 219.5,356.0 220.9,356.2 222.3,355.2 223.6,355.4 225.0,355.1 226.4,354.3 227.7,354.6 229.1,354.3 230.5,354.3 231.8,353.5 233.2,353.8 234.5,353.1 235.9,352.8 237.3,352.9 238.6,351.9 240.0,352.2 241.3,351.6 242.7,350.9 244.0,350.8 245.3,349.9 246.7,349.5 248.0,349.0 249.3,349.4 250.7,349.1 252.0,349.4 252.8,350.8 253.5,352.3 254.2,353.9 255.0,354.8 255.7,356.5 256.3,357.2 257.0,358.5 257.7,359.5 258.3,360.8 259.0,362.4 259.8,363.3 260.6,364.7 261.4,365.4 262.2,366.6 263.0,367.8 263.8,369.2 264.6,370.3 265.4,371.6 266.2,372.0 267.0,373.5" fill="none" stroke="#40dc24" stroke-width="1.2" stroke-linejoin="round" stroke-linecap="round"/>
<polyline points="196.5,367.3 197.8,367.4 199.2,367.5 200.6,367.1 201.9,366.5 203.2,366.7 204.6,366.3 205.9,366.4 207.3,367.0 208.7,366.6 210.0,366.5 211.2,366.2 212.5,365.9 213.8,365.2 215.0,364.7 216.2,364.3 217.5,363.9 218.8,363.3 220.0,363.0 221.2,362.1 222.5,362.1 223.8,361.4 225.0,361.2 226.2,360.1 227.5,359.7 228.8,359.1 230.0,359.2 231.2,358.9 232.5,358.1 233.8,357.4 235.0,357.3 236.2,356.8 237.5,356.1 238.8,355.3 240.0,354.8 241.1,354.1 242.3,353.1 243.4,352.4 244.6,351.7 245.7,351.1 246.9,349.5 248.0,349.1 249.2,347.8 250.5,347.1 251.8,346.9 253.0,345.9 254.0,347.2 255.0,347.8 256.0,348.5 257.0,349.9 258.0,351.1 258.9,352.5 259.8,353.7 260.6,354.4 261.5,355.4 262.4,356.3 263.2,357.9 264.1,358.6 265.0,359.7 265.9,360.6 266.8,361.7 267.6,363.4 268.5,363.9 269.4,365.7 270.2,366.0 271.1,367.8 272.0,368.2 273.1,368.9 274.3,370.3 275.4,370.6 276.6,371.9 277.7,372.1 278.9,372.8 280.0,374.0" fill="none" stroke="#000" stroke-width="2.0" stroke-linejoin="round" stroke-linecap="round"/>
<polygon points="358.0,374.8 358.0,368.5 375.0,365.3 390.0,357.0 405.0,347.3 415.0,344.0 420.0,347.5 425.0,352.0 432.0,363.6 440.0,370.0 450.0,374.3 450.0,374.8" fill="#e6eaec" stroke="none"/>
<polyline points="419.6,374.1 420.2,374.1 420.9,373.8 421.5,373.7 422.1,373.2 422.8,372.3 423.4,372.3 424.0,371.8 424.6,371.0 425.3,370.7 425.9,369.2 426.5,368.9 427.2,367.6 427.8,365.7 428.4,364.3 429.1,363.3 429.7,361.7 430.3,359.2 430.9,357.4 431.6,355.5 432.2,352.6 432.5,352.0 432.8,350.4 433.1,348.6 433.5,347.6 433.8,346.4 434.1,344.8 434.4,343.6 434.7,341.7 435.0,340.8 435.4,338.9 435.7,337.6 436.0,336.1 436.3,334.4 436.6,332.8 436.9,331.6 437.2,330.2 437.6,328.6 437.9,326.9 438.2,325.2 438.5,323.5 438.8,323.0 439.1,321.3 439.4,320.1 439.8,318.4 440.4,316.2 441.0,314.3 441.7,312.3 442.3,310.5 442.9,308.9 443.5,308.1 444.2,307.9 444.8,307.3 445.4,307.8 446.1,308.2 446.7,309.4 447.3,310.6 447.9,311.8 448.6,313.4 449.2,315.9 449.8,318.4 450.2,319.9 450.5,321.4 450.8,322.9 451.1,323.5 451.4,325.7 451.7,327.1 452.0,328.7 452.4,329.9 452.7,331.2 453.0,333.2 453.3,334.7 453.6,336.1 453.9,337.9 454.2,338.9 454.6,340.1 454.9,342.0 455.2,343.7 455.5,344.6 455.8,346.5 456.1,348.1 456.5,348.8 456.8,350.5 457.1,351.8 457.4,352.9 458.0,355.0 458.7,357.3 459.3,359.8 459.9,361.7 460.6,363.1 461.2,364.4 461.8,366.4 462.4,367.6 463.1,368.2 463.7,369.5 464.3,370.6 465.0,371.4 465.6,371.7 466.2,372.2 466.9,372.7 467.5,372.8 468.1,373.1 468.7,373.4 469.4,374.0 470.0,374.1" fill="none" stroke="#9a9a9a" stroke-width="1.1" stroke-linejoin="round" stroke-linecap="round"/>
<polyline points="433.3,374.2 434.0,373.9 434.8,373.9 435.5,373.5 436.2,373.4 437.0,372.7 437.7,372.2 438.4,372.7 439.2,371.6 439.9,370.7 440.6,370.5 441.4,369.9 442.1,368.4 442.9,367.8 443.6,366.4 444.3,365.3 445.1,363.4 445.8,361.9 446.5,361.1 447.3,359.1 448.0,356.8 448.7,354.8 449.5,352.4 450.2,350.5 450.9,347.8 451.7,345.8 452.0,344.4 452.4,343.2 452.8,342.1 453.1,340.2 453.5,338.8 453.9,337.6 454.6,335.2 455.3,332.7 456.1,330.4 456.8,328.7 457.6,327.0 458.3,324.8 459.0,323.7 459.8,322.3 460.5,320.5 461.2,320.2 462.0,319.6 462.7,319.2 463.4,320.1 464.2,319.9 464.9,320.9 465.6,322.1 466.4,323.7 467.1,325.0 467.8,326.5 468.6,328.6 469.3,330.5 470.1,333.5 470.8,335.9 471.5,337.7 471.9,338.8 472.3,340.2 472.6,341.5 473.0,343.3 473.4,344.5 473.7,345.7 474.5,347.5 475.2,350.5 475.9,352.8 476.7,354.9 477.4,357.3 478.1,358.4 478.9,360.3 479.6,362.5 480.3,364.3 481.1,365.4 481.8,366.4 482.5,367.8 483.3,368.9 484.0,369.3 484.8,370.2 485.5,370.9 486.2,371.4 487.0,372.2 487.7,372.4 488.4,372.8 489.2,373.0 489.9,373.8 490.6,373.4 491.4,374.2 492.1,374.2" fill="none" stroke="#8a1a1a" stroke-width="1.2" stroke-linejoin="round" stroke-linecap="round"/>
<polyline points="358.0,362.0 359.3,361.3 360.6,360.8 361.9,361.2 363.2,360.2 364.5,360.5 365.8,360.0 367.2,359.7 368.5,358.6 369.8,358.5 371.1,357.8 372.4,358.2 373.7,357.7 375.0,357.1 376.2,356.5 377.5,356.0 378.8,356.0 380.0,355.3 381.2,355.0 382.5,354.2 383.8,353.8 385.0,353.3 386.2,353.4 387.5,352.9 388.8,352.1 390.0,352.3 391.2,351.4 392.5,351.2 393.8,350.6 395.0,350.3 396.2,350.4 397.5,349.6 398.8,349.1 400.0,349.0 401.2,349.2 402.5,350.1 403.8,349.8 405.0,350.9 406.0,351.0 407.0,352.7 408.0,353.4 409.0,353.8 410.0,355.0 411.0,355.8 412.0,356.8 413.0,357.7 414.0,358.9 415.0,360.4 415.8,361.4 416.7,362.4 417.5,362.6 418.3,363.8 419.2,365.4 420.0,365.6 421.0,367.4 422.0,368.1 423.0,369.9 424.0,370.2 425.0,372.1 426.5,372.8 428.0,374.0" fill="none" stroke="#40dc24" stroke-width="1.2" stroke-linejoin="round" stroke-linecap="round"/>
<polyline points="358.0,368.5 359.3,367.9 360.6,367.6 361.9,368.1 363.2,367.5 364.5,367.0 365.8,367.0 367.2,367.1 368.5,366.3 369.8,366.3 371.1,365.7 372.4,365.5 373.7,365.8 375.0,365.5 376.2,364.4 377.3,363.6 378.5,363.0 379.6,362.8 380.8,362.1 381.9,361.3 383.1,360.6 384.2,360.3 385.4,359.7 386.5,359.2 387.7,358.4 388.8,357.4 390.0,356.6 391.2,356.5 392.3,355.4 393.5,355.0 394.6,353.6 395.8,353.5 396.9,352.4 398.1,352.1 399.2,351.4 400.4,350.3 401.5,349.1 402.7,349.2 403.8,348.0 405.0,347.6 406.2,346.7 407.5,346.2 408.8,346.4 410.0,345.5 411.2,344.9 412.5,344.7 413.8,344.5 415.0,343.6 416.2,344.9 417.5,345.7 418.8,346.6 420.0,347.2 421.0,348.6 422.0,349.6 423.0,350.5 424.0,350.9 425.0,352.2 425.7,353.1 426.4,354.5 427.1,355.1 427.8,357.0 428.5,358.2 429.2,359.0 429.9,360.1 430.6,361.3 431.3,362.5 432.0,363.2 433.1,364.9 434.3,365.2 435.4,366.1 436.6,366.9 437.7,367.9 438.9,369.4 440.0,369.6 441.2,370.2 442.5,371.3 443.8,371.3 445.0,371.7 446.2,372.8 447.5,373.3 448.8,373.8 450.0,374.3" fill="none" stroke="#000" stroke-width="2.0" stroke-linejoin="round" stroke-linecap="round"/>
<polygon points="34.5,455.8 34.5,453.0 45.0,452.7 55.0,451.0 65.0,447.3 75.0,440.6 82.0,432.0 88.0,425.2 93.0,421.3 97.0,422.3 103.0,429.0 108.0,437.7 113.0,447.3 118.0,454.0 122.0,455.6 122.0,455.8" fill="#e6eaec" stroke="none"/>
<polyline points="95.2,455.1 95.8,455.1 96.5,454.3 97.1,454.7 97.7,454.3 98.4,453.3 99.0,452.9 99.6,452.7 100.2,452.1 100.9,451.2 101.5,450.2 102.1,449.5 102.8,448.2 103.4,447.4 104.0,446.2 104.7,444.1 105.3,442.8 105.9,441.1 106.5,438.5 107.2,436.9 107.8,434.7 108.4,431.7 108.7,430.4 109.1,429.5 109.4,427.8 109.7,426.3 110.0,425.4 110.3,423.8 110.6,422.0 111.0,420.4 111.3,419.0 111.6,417.6 111.9,416.6 112.2,414.9 112.5,413.5 112.8,411.9 113.2,410.5 113.5,408.3 113.8,407.3 114.1,406.2 114.4,404.8 114.7,402.9 115.0,401.7 115.4,400.6 116.0,398.0 116.6,396.0 117.2,393.7 117.9,392.5 118.5,391.3 119.1,389.9 119.8,389.5 120.4,390.0 121.0,390.0 121.7,390.7 122.3,391.4 122.9,392.8 123.6,394.4 124.2,396.3 124.8,397.7 125.4,400.6 125.8,401.6 126.1,403.2 126.4,404.3 126.7,405.9 127.0,407.6 127.3,408.8 127.6,409.9 128.0,411.7 128.3,413.1 128.6,415.0 128.9,416.0 129.2,417.5 129.5,419.3 129.8,420.3 130.2,422.2 130.5,424.0 130.8,425.0 131.1,426.2 131.4,427.8 131.7,429.2 132.1,430.2 132.4,431.5 133.0,434.0 133.6,436.5 134.3,438.7 134.9,440.7 135.5,442.5 136.2,444.0 136.8,446.0 137.4,447.6 138.0,448.6 138.7,449.6 139.3,450.7 139.9,451.1 140.6,452.3 141.2,452.7 141.8,453.3 142.5,453.8 143.1,454.0 143.7,454.2 144.3,454.4 145.0,454.6 145.6,455.1" fill="none" stroke="#9a9a9a" stroke-width="1.1" stroke-linejoin="round" stroke-linecap="round"/>
<polyline points="108.6,455.2 109.3,455.1 110.1,454.8 110.8,454.7 111.5,453.9 112.3,453.9 113.0,454.0 113.7,453.0 114.5,452.8 115.2,452.1 116.0,451.3 116.7,451.1 117.4,449.6 118.2,449.0 118.9,447.4 119.6,446.0 120.4,445.3 121.1,443.4 121.8,441.4 122.6,439.9 123.3,438.1 124.0,436.3 124.8,433.5 125.5,431.4 126.2,429.7 127.0,427.1 127.7,424.1 128.4,421.8 129.2,419.3 129.9,417.2 130.7,414.8 131.4,412.7 132.1,410.6 132.9,408.3 133.6,406.8 134.3,405.2 135.1,403.9 135.8,402.6 136.5,402.2 137.3,401.6 138.0,401.7 138.7,401.1 139.5,402.2 140.2,402.2 140.9,403.9 141.7,405.1 142.4,406.5 143.1,408.7 143.9,410.3 144.6,412.3 145.3,414.9 146.1,417.4 146.8,419.5 147.6,421.8 148.3,424.4 149.0,426.8 149.8,429.5 150.5,431.4 151.2,433.8 152.0,436.1 152.7,438.0 153.4,439.9 154.2,442.1 154.9,443.8 155.6,445.0 156.4,446.4 157.1,447.4 157.8,448.6 158.6,449.5 159.3,450.7 160.1,451.5 160.8,451.8 161.5,453.1 162.3,453.1 163.0,454.0 163.7,454.4 164.5,454.8 165.2,454.4 165.9,454.8 166.7,455.4 167.4,455.2" fill="none" stroke="#8a1a1a" stroke-width="1.2" stroke-linejoin="round" stroke-linecap="round"/>
<polyline points="34.5,444.4 35.8,443.7 37.1,443.5 38.4,443.7 39.8,443.4 41.1,443.6 42.4,443.2 43.7,442.8 45.0,442.9 46.2,442.0 47.5,441.6 48.8,441.2 50.0,440.5 51.2,440.0 52.5,439.7 53.8,439.0 55.0,439.1 56.2,438.4 57.5,437.7 58.8,436.9 60.0,436.6 61.2,436.2 62.5,435.8 63.8,435.4 65.0,435.1 66.2,434.7 67.5,433.7 68.8,433.1 70.0,432.7 71.2,432.5 72.5,431.4 73.8,431.0 75.0,430.7 76.4,429.8 77.8,429.7 79.2,430.0 80.6,429.6 82.0,429.0 83.2,429.6 84.5,431.4 85.8,432.2 87.0,433.3 87.8,434.7 88.7,435.9 89.5,436.7 90.3,437.8 91.2,439.1 92.0,440.6 92.8,441.8 93.5,442.7 94.2,443.8 95.0,445.4 95.8,446.6 96.5,447.5 97.2,449.3 98.0,450.1 99.0,450.6 100.0,452.0 101.0,453.4 102.0,454.1 103.0,455.3" fill="none" stroke="#40dc24" stroke-width="1.2" stroke-linejoin="round" stroke-linecap="round"/>
<polyline points="34.5,453.0 35.8,453.1 37.1,452.5 38.4,452.7 39.8,453.2 41.1,452.9 42.4,452.9 43.7,452.5 45.0,452.7 46.4,452.5 47.9,452.0 49.3,452.1 50.7,451.8 52.1,451.9 53.6,451.3 55.0,450.9 56.2,450.2 57.5,449.8 58.8,449.8 60.0,448.8 61.2,448.3 62.5,447.9 63.8,447.8 65.0,447.6 66.1,446.7 67.2,446.1 68.3,444.7 69.4,443.9 70.6,443.8 71.7,442.7 72.8,442.3 73.9,441.2 75.0,440.3 75.9,439.3 76.8,438.1 77.6,437.7 78.5,436.4 79.4,435.1 80.2,434.1 81.1,433.0 82.0,431.6 83.0,431.2 84.0,429.8 85.0,429.0 86.0,427.4 87.0,426.4 88.0,425.0 89.2,423.8 90.5,423.6 91.8,422.6 93.0,421.1 94.3,422.0 95.7,422.3 97.0,422.1 98.0,423.5 99.0,424.9 100.0,425.6 101.0,427.2 102.0,427.7 103.0,428.9 103.7,430.4 104.4,431.2 105.1,432.6 105.9,434.3 106.6,435.2 107.3,436.7 108.0,437.5 108.6,438.6 109.2,440.0 109.9,441.0 110.5,442.9 111.1,443.5 111.8,445.0 112.4,445.8 113.0,447.3 113.8,448.3 114.7,449.4 115.5,450.3 116.3,451.4 117.2,453.2 118.0,453.9 119.3,454.3 120.7,454.8 122.0,455.6" fill="none" stroke="#000" stroke-width="2.0" stroke-linejoin="round" stroke-linecap="round"/>
<polygon points="196.0,455.8 196.0,453.5 210.0,452.7 220.0,451.0 230.0,446.6 238.3,437.0 241.7,423.3 245.2,409.4 247.8,406.0 252.0,406.8 254.7,412.9 258.1,425.0 261.6,437.0 265.9,448.3 271.0,453.5 278.0,455.6 278.0,455.8" fill="#e6eaec" stroke="none"/>
<polyline points="260.8,455.0 261.4,454.6 262.1,454.4 262.7,453.9 263.3,454.1 263.9,453.5 264.6,452.8 265.2,452.8 265.8,451.6 266.5,451.0 267.1,450.6 267.7,449.0 268.4,448.1 269.0,447.2 269.6,445.8 270.2,443.6 270.9,442.0 271.5,440.4 272.1,438.0 272.8,436.2 273.4,433.1 273.7,432.5 274.0,430.8 274.3,429.1 274.7,428.0 275.0,426.3 275.3,425.3 275.6,423.4 275.9,422.5 276.2,420.7 276.6,419.0 276.9,417.3 277.2,416.1 277.5,414.2 277.8,413.2 278.1,410.9 278.4,409.7 278.8,408.2 279.1,406.4 279.4,405.4 279.7,403.5 280.0,402.4 280.3,400.8 280.6,399.3 281.0,398.0 281.6,395.2 282.2,393.1 282.9,391.7 283.5,389.6 284.1,388.6 284.7,387.1 285.4,386.9 286.0,386.6 286.6,386.9 287.3,387.3 287.9,388.0 288.5,389.6 289.1,391.1 289.8,393.0 290.4,395.8 291.0,397.9 291.4,399.3 291.7,401.1 292.0,402.5 292.3,404.0 292.6,405.5 292.9,406.3 293.2,408.0 293.6,409.3 293.9,411.4 294.2,413.0 294.5,414.3 294.8,415.9 295.1,417.7 295.4,419.3 295.8,420.4 296.1,422.5 296.4,423.5 296.7,425.3 297.0,426.3 297.3,427.7 297.7,429.8 298.0,431.0 298.3,432.3 298.6,433.0 299.2,435.4 299.9,437.8 300.5,439.9 301.1,441.9 301.8,443.8 302.4,445.1 303.0,446.7 303.6,448.3 304.3,449.0 304.9,450.6 305.5,451.2 306.2,452.1 306.8,452.3 307.4,453.1 308.1,453.8 308.7,453.9 309.3,453.9 309.9,454.9 310.6,455.1 311.2,455.0" fill="none" stroke="#9a9a9a" stroke-width="1.1" stroke-linejoin="round" stroke-linecap="round"/>
<polyline points="271.1,455.1 271.8,454.8 272.6,454.4 273.3,454.9 274.0,454.4 274.8,453.5 275.5,453.3 276.2,452.7 277.0,452.8 277.7,451.6 278.4,451.5 279.2,450.5 279.9,449.0 280.7,448.4 281.4,447.0 282.1,445.9 282.9,444.5 283.6,442.4 284.3,440.4 285.1,439.2 285.8,436.7 286.5,435.0 287.3,432.4 288.0,430.0 288.4,428.8 288.7,427.4 289.1,425.9 289.5,424.3 289.8,423.5 290.2,422.0 290.6,420.7 290.9,419.8 291.3,417.7 291.7,417.0 292.0,415.0 292.4,414.3 292.8,413.1 293.1,411.4 293.9,409.2 294.6,407.3 295.4,404.9 296.1,402.9 296.8,401.0 297.6,399.4 298.3,398.5 299.0,397.8 299.8,397.1 300.5,397.0 301.2,397.0 302.0,398.0 302.7,398.8 303.4,399.5 304.2,400.9 304.9,402.9 305.6,404.7 306.4,407.2 307.1,409.0 307.9,411.4 308.2,413.2 308.6,413.8 309.0,415.5 309.3,416.6 309.7,418.3 310.1,419.4 310.4,420.9 310.8,421.7 311.2,423.5 311.5,424.8 311.9,425.9 312.3,427.5 312.6,428.8 313.0,429.5 313.7,432.1 314.5,434.4 315.2,436.5 315.9,438.5 316.7,440.6 317.4,442.3 318.1,444.4 318.9,445.6 319.6,446.7 320.3,448.1 321.1,449.3 321.8,450.2 322.6,450.8 323.3,451.5 324.0,452.1 324.8,453.5 325.5,453.8 326.2,453.6 327.0,454.5 327.7,455.0 328.4,454.8 329.2,454.6 329.9,455.1" fill="none" stroke="#8a1a1a" stroke-width="1.2" stroke-linejoin="round" stroke-linecap="round"/>
<polyline points="196.7,439.7 197.9,439.2 199.2,438.6 200.4,437.9 201.7,437.7 202.9,436.8 204.2,437.1 205.4,436.3 206.7,435.7 208.0,435.3 209.3,434.4 210.6,433.4 211.9,432.7 213.2,432.0 214.5,431.2 215.8,431.2 217.2,430.9 218.7,430.0 220.1,429.4 221.5,429.4 223.0,429.1 224.4,428.8 225.7,428.3 227.0,429.1 228.3,429.4 229.6,429.5 230.8,430.0 232.0,430.7 233.3,432.2 234.5,432.6 235.7,433.5 236.6,434.9 237.4,435.9 238.3,437.6 239.1,438.2 240.0,439.3 240.7,441.1 241.4,442.4 242.2,443.9 242.9,445.1 243.6,446.6 244.3,447.9 245.2,448.7 246.0,449.9 246.9,450.8 247.7,452.1 248.6,453.6 249.7,453.8 250.9,455.0 252.0,455.5" fill="none" stroke="#40dc24" stroke-width="1.2" stroke-linejoin="round" stroke-linecap="round"/>
<polyline points="196.0,453.5 197.4,453.1 198.8,453.3 200.2,453.7 201.6,452.8 203.0,452.7 204.4,453.0 205.8,452.7 207.2,453.1 208.6,452.3 210.0,453.0 211.4,452.8 212.9,452.5 214.3,451.9 215.7,451.5 217.1,451.6 218.6,451.3 220.0,450.9 221.2,450.3 222.5,449.8 223.8,449.5 225.0,449.1 226.2,448.6 227.5,447.4 228.8,447.0 230.0,446.5 230.9,445.6 231.8,444.3 232.8,443.1 233.7,442.0 234.6,441.1 235.5,440.2 236.5,439.6 237.4,438.4 238.3,437.3 238.6,436.1 239.0,434.7 239.3,433.0 239.7,431.8 240.0,429.8 240.3,428.9 240.7,427.5 241.0,425.9 241.4,424.7 241.7,423.7 242.0,422.0 242.3,420.9 242.7,419.3 243.0,418.1 243.3,417.3 243.6,415.3 243.9,414.2 244.2,413.4 244.6,411.9 244.9,410.3 245.2,409.5 246.1,408.2 246.9,407.2 247.8,405.9 249.2,406.3 250.6,406.6 252.0,406.7 252.5,407.7 253.1,409.0 253.6,410.8 254.2,411.7 254.7,412.6 255.1,414.6 255.5,415.4 255.8,416.6 256.2,418.3 256.6,419.4 257.0,421.0 257.3,422.4 257.7,423.4 258.1,425.1 258.5,426.0 258.9,427.7 259.3,429.1 259.7,430.0 260.0,431.6 260.4,432.6 260.8,434.3 261.2,436.0 261.6,437.0 262.1,438.4 262.6,439.7 263.0,440.4 263.5,442.5 264.0,443.5 264.5,444.2 264.9,446.1 265.4,446.9 265.9,448.0 266.9,449.8 267.9,450.4 269.0,451.7 270.0,452.1 271.0,453.7 272.4,453.5 273.8,454.1 275.2,454.6 276.6,454.7 278.0,455.6" fill="none" stroke="#000" stroke-width="2.4" stroke-linejoin="round" stroke-linecap="round"/>
<polygon points="358.0,455.8 358.0,454.0 380.0,453.4 395.0,448.5 402.0,433.8 407.0,414.2 410.0,404.4 414.0,401.1 418.0,406.0 422.0,420.7 426.0,433.8 430.0,445.3 435.0,452.8 440.0,455.5 440.0,455.8" fill="#e6eaec" stroke="none"/>
<polyline points="424.1,455.0 424.7,454.9 425.3,454.3 425.9,454.1 426.5,454.2 427.1,453.5 427.7,453.5 428.3,452.7 428.9,452.2 429.5,451.2 430.1,450.7 430.7,449.6 431.3,447.8 431.9,447.1 432.5,445.3 433.1,444.1 433.7,442.2 434.3,440.4 434.9,437.7 435.5,435.6 436.1,433.5 436.4,432.4 436.7,430.9 437.0,428.9 437.3,428.0 437.6,426.1 437.9,425.1 438.2,423.8 438.5,421.7 438.7,420.9 439.0,419.1 439.3,417.2 439.6,415.5 439.9,414.2 440.2,413.0 440.5,411.2 440.8,409.2 441.1,407.5 441.4,406.1 441.7,405.2 442.0,403.1 442.3,402.0 442.6,400.3 442.9,399.4 443.2,397.7 443.8,395.0 444.4,393.4 445.0,391.1 445.6,389.6 446.2,388.4 446.8,387.6 447.4,386.2 448.0,386.3 448.6,386.3 449.2,387.2 449.8,388.5 450.4,389.7 451.0,390.7 451.6,392.8 452.2,395.6 452.8,398.0 453.1,399.1 453.4,400.5 453.7,401.7 454.0,403.7 454.3,404.8 454.6,406.8 454.9,408.1 455.2,409.1 455.5,410.9 455.8,412.4 456.1,414.6 456.4,415.9 456.7,417.0 457.0,418.6 457.3,420.4 457.5,422.0 457.8,423.6 458.1,424.9 458.4,426.3 458.7,427.5 459.0,429.3 459.3,430.5 459.6,431.5 459.9,433.2 460.5,436.2 461.1,437.6 461.7,439.8 462.3,442.2 462.9,443.6 463.5,445.2 464.1,446.9 464.7,447.9 465.3,449.3 465.9,450.3 466.5,451.6 467.1,452.3 467.7,452.1 468.3,453.2 468.9,453.8 469.5,454.3 470.1,454.6 470.7,454.7 471.3,455.0 471.9,455.0" fill="none" stroke="#9a9a9a" stroke-width="1.1" stroke-linejoin="round" stroke-linecap="round"/>
<polyline points="435.6,455.1 436.2,454.8 436.9,454.6 437.6,454.8 438.3,454.6 439.0,454.3 439.6,453.7 440.3,452.8 441.0,452.7 441.7,452.0 442.3,451.1 443.0,450.3 443.7,449.1 444.4,448.2 445.1,446.8 445.7,445.1 446.4,443.9 447.1,442.2 447.8,441.0 448.5,438.5 449.1,436.3 449.8,434.0 450.5,431.6 451.2,429.2 451.5,427.7 451.8,426.3 452.2,425.8 452.5,424.1 452.9,422.8 453.2,421.5 453.5,419.9 453.9,418.4 454.2,417.0 454.6,415.9 454.9,414.5 455.2,413.6 455.6,412.1 455.9,411.2 456.6,408.2 457.3,406.4 458.0,403.9 458.6,401.6 459.3,400.0 460.0,398.9 460.7,398.1 461.3,396.7 462.0,396.6 462.7,396.1 463.4,396.7 464.1,396.5 464.7,397.7 465.4,399.2 466.1,400.0 466.8,401.7 467.4,403.4 468.1,405.7 468.8,408.1 469.5,411.0 469.8,411.8 470.2,413.3 470.5,414.5 470.8,416.1 471.2,417.7 471.5,418.9 471.9,419.8 472.2,421.7 472.5,423.2 472.9,424.2 473.2,425.1 473.6,427.1 473.9,428.4 474.2,429.2 474.9,431.5 475.6,433.9 476.3,436.5 476.9,438.9 477.6,440.6 478.3,442.7 479.0,443.7 479.7,445.4 480.3,447.1 481.0,448.3 481.7,449.1 482.4,450.4 483.1,450.9 483.7,451.4 484.4,452.4 485.1,452.6 485.8,453.6 486.4,453.8 487.1,454.2 487.8,454.6 488.5,454.6 489.2,454.9 489.8,455.1" fill="none" stroke="#8a1a1a" stroke-width="1.2" stroke-linejoin="round" stroke-linecap="round"/>
<polyline points="358.0,438.7 359.3,437.9 360.7,438.4 362.0,437.7 363.3,437.7 364.7,436.5 366.0,436.7 367.3,436.4 368.7,435.7 370.0,435.1 371.2,434.6 372.5,434.0 373.8,433.9 375.0,432.7 376.2,432.7 377.5,431.8 378.8,431.2 380.0,430.7 381.4,430.3 382.9,430.1 384.3,429.7 385.7,429.1 387.1,429.2 388.6,428.4 390.0,428.5 391.3,429.2 392.7,429.8 394.0,430.1 395.3,431.1 396.7,432.0 398.0,432.2 398.9,433.0 399.8,434.3 400.6,435.7 401.5,436.0 402.4,436.9 403.2,438.3 404.1,439.5 405.0,440.6 405.7,441.4 406.4,443.2 407.1,443.6 407.9,445.3 408.6,445.8 409.3,446.9 410.0,448.2 410.8,449.2 411.7,450.8 412.5,451.9 413.3,452.7 414.2,454.6 415.0,455.3" fill="none" stroke="#40dc24" stroke-width="1.2" stroke-linejoin="round" stroke-linecap="round"/>
<polyline points="358.0,454.0 359.4,453.8 360.8,453.6 362.1,453.6 363.5,454.1 364.9,454.2 366.2,453.5 367.6,453.3 369.0,454.0 370.4,453.4 371.8,454.1 373.1,453.6 374.5,453.7 375.9,453.4 377.2,453.7 378.6,453.4 380.0,453.2 381.2,453.4 382.5,452.2 383.8,452.4 385.0,451.4 386.2,451.5 387.5,450.9 388.8,450.9 390.0,449.7 391.2,449.8 392.5,449.2 393.8,449.3 395.0,448.9 395.6,447.4 396.2,445.8 396.8,444.6 397.3,443.4 397.9,442.3 398.5,440.9 399.1,439.7 399.7,438.9 400.2,437.6 400.8,436.1 401.4,435.5 402.0,433.5 402.3,432.6 402.7,430.9 403.0,430.2 403.3,428.9 403.7,427.1 404.0,426.2 404.3,424.9 404.7,423.2 405.0,421.9 405.3,420.7 405.7,419.8 406.0,417.8 406.3,417.0 406.7,415.6 407.0,414.2 407.4,412.9 407.9,411.7 408.3,409.7 408.7,408.9 409.1,407.1 409.6,406.1 410.0,404.7 411.3,403.0 412.7,402.5 414.0,401.5 415.0,402.1 416.0,403.1 417.0,404.4 418.0,406.4 418.4,406.9 418.7,409.0 419.1,409.7 419.5,411.6 419.8,412.3 420.2,413.7 420.5,415.5 420.9,416.3 421.3,417.9 421.6,419.7 422.0,420.9 422.4,422.4 422.8,423.8 423.2,424.2 423.6,425.7 424.0,427.5 424.4,428.7 424.8,429.5 425.2,431.2 425.6,432.2 426.0,433.7 426.4,434.7 426.9,435.9 427.3,438.1 427.8,438.7 428.2,440.5 428.7,441.1 429.1,442.7 429.6,443.7 430.0,445.2 430.8,446.3 431.7,448.0 432.5,448.7 433.3,450.5 434.2,451.6 435.0,452.5 436.2,453.3 437.5,454.1 438.8,455.2 440.0,455.5" fill="none" stroke="#000" stroke-width="2.4" stroke-linejoin="round" stroke-linecap="round"/>
<line x1="34.6" y1="374.8" x2="192.5" y2="374.8" stroke="#000" stroke-width="1.8"/>
<line x1="195.6" y1="374.8" x2="353.5" y2="374.8" stroke="#000" stroke-width="1.8"/>
<line x1="357.4" y1="374.8" x2="517.0" y2="374.8" stroke="#000" stroke-width="1.8"/>
<line x1="34.6" y1="304.2" x2="34.6" y2="375.6" stroke="#163816" stroke-width="2.2"/>
<line x1="195.6" y1="304.2" x2="195.6" y2="375.6" stroke="#163816" stroke-width="2.2"/>
<line x1="357.4" y1="304.2" x2="357.4" y2="375.6" stroke="#163816" stroke-width="2.2"/>
<line x1="34.6" y1="455.8" x2="192.5" y2="455.8" stroke="#000" stroke-width="1.8"/>
<line x1="195.6" y1="455.8" x2="353.5" y2="455.8" stroke="#000" stroke-width="1.8"/>
<line x1="357.4" y1="455.8" x2="517.0" y2="455.8" stroke="#000" stroke-width="1.8"/>
<line x1="34.6" y1="386.0" x2="34.6" y2="456.6" stroke="#163816" stroke-width="2.2"/>
<line x1="195.6" y1="386.0" x2="195.6" y2="456.6" stroke="#163816" stroke-width="2.2"/>
<line x1="357.4" y1="386.0" x2="357.4" y2="456.6" stroke="#163816" stroke-width="2.2"/>
<text x="66.3" y="318.1" font-size="13.4" font-weight="bold" font-style="italic" fill="#000" text-anchor="start" textLength="43.1" lengthAdjust="spacingAndGlyphs" stroke="#000" stroke-width="0.3">MFI = 4</text>
<text x="220.8" y="318.7" font-size="13.4" font-weight="bold" font-style="italic" fill="#000" text-anchor="start" textLength="44.6" lengthAdjust="spacingAndGlyphs" stroke="#000" stroke-width="0.3">MFI = 6</text>
<text x="392.5" y="318.5" font-size="13.4" font-weight="bold" font-style="italic" fill="#000" text-anchor="start" textLength="44.1" lengthAdjust="spacingAndGlyphs" stroke="#000" stroke-width="0.3">MFI = 7</text>
<text x="62.5" y="391.5" font-size="13.4" font-weight="bold" font-style="italic" fill="#000" text-anchor="start" textLength="51.0" lengthAdjust="spacingAndGlyphs" stroke="#000" stroke-width="0.3">MFI = 10</text>
<text x="217.5" y="390.90000000000003" font-size="13.4" font-weight="bold" font-style="italic" fill="#000" text-anchor="start" textLength="50.2" lengthAdjust="spacingAndGlyphs" stroke="#000" stroke-width="0.3">MFI = 10</text>
<text x="388.6" y="391.3" font-size="13.4" font-weight="bold" font-style="italic" fill="#000" text-anchor="start" textLength="50.3" lengthAdjust="spacingAndGlyphs" stroke="#000" stroke-width="0.3">MFI = 11</text>
<text x="43.3" y="330.5" font-size="12.5" font-weight="bold" fill="#55d63a" text-anchor="start" textLength="19.2" lengthAdjust="spacingAndGlyphs">- / -</text>
<text x="43.5" y="343.6" font-size="14" font-weight="bold" fill="#55d63a" text-anchor="start" textLength="14.5" lengthAdjust="spacingAndGlyphs">(4)</text>
<text x="88.0" y="330.5" font-size="12.5" font-weight="bold" fill="#414a54" text-anchor="start" textLength="22.6" lengthAdjust="spacingAndGlyphs">+ / -</text>
<text x="86.7" y="343.6" font-size="14" font-weight="bold" fill="#414a54" text-anchor="start" textLength="23.0" lengthAdjust="spacingAndGlyphs">(47)</text>
<text x="158.6" y="330.5" font-size="12.5" font-weight="bold" fill="#701616" text-anchor="start" textLength="24.6" lengthAdjust="spacingAndGlyphs">+ / +</text>
<text x="158.89999999999998" y="343.6" font-size="14" font-weight="bold" fill="#701616" text-anchor="start" textLength="22.200000000000003" lengthAdjust="spacingAndGlyphs">(99)</text>
<text x="209.0" y="401.0" font-size="12.5" font-weight="bold" fill="#55d63a" text-anchor="start" textLength="19.5" lengthAdjust="spacingAndGlyphs">- / -</text>
<text x="209.7" y="414.8" font-size="14" font-weight="bold" fill="#55d63a" text-anchor="start" textLength="13.799999999999999" lengthAdjust="spacingAndGlyphs">(3)</text>
<text x="256.0" y="401.0" font-size="12.5" font-weight="bold" fill="#414a54" text-anchor="start" textLength="21.7" lengthAdjust="spacingAndGlyphs">+ / -</text>
<text x="255.7" y="414.8" font-size="14" font-weight="bold" fill="#414a54" text-anchor="start" textLength="23.6" lengthAdjust="spacingAndGlyphs">(53)</text>
<text x="316.8" y="401.0" font-size="12.5" font-weight="bold" fill="#701616" text-anchor="start" textLength="24.0" lengthAdjust="spacingAndGlyphs">+ / +</text>
<text x="316.5" y="414.8" font-size="14" font-weight="bold" fill="#701616" text-anchor="start" textLength="22.1" lengthAdjust="spacingAndGlyphs">(92)</text>
<text x="50.0" y="373.2" font-size="12.2" font-weight="normal" fill="#000" text-anchor="start" textLength="49.2" lengthAdjust="spacingAndGlyphs" stroke="#000" stroke-width="0.2">Mouse A</text>
<text x="220.8" y="373.2" font-size="12.2" font-weight="normal" fill="#000" text-anchor="start" textLength="49.2" lengthAdjust="spacingAndGlyphs" stroke="#000" stroke-width="0.2">Mouse B</text>
<text x="381.0" y="373.2" font-size="12.2" font-weight="normal" fill="#000" text-anchor="start" textLength="53.3" lengthAdjust="spacingAndGlyphs" stroke="#000" stroke-width="0.2">Mouse C</text>
<text x="61.5" y="453.8" font-size="12.2" font-weight="normal" fill="#000" text-anchor="start" textLength="51.0" lengthAdjust="spacingAndGlyphs" stroke="#000" stroke-width="0.2">Mouse D</text>
<text x="214.0" y="453.4" font-size="12.2" font-weight="normal" fill="#000" text-anchor="start" textLength="51.4" lengthAdjust="spacingAndGlyphs" stroke="#000" stroke-width="0.2">Mouse E</text>
<text x="376.0" y="453.2" font-size="12.2" font-weight="normal" fill="#000" text-anchor="start" textLength="49.8" lengthAdjust="spacingAndGlyphs" stroke="#000" stroke-width="0.2">Mouse F</text>
<text x="237.7" y="480.2" font-size="14" font-weight="bold" fill="#000" text-anchor="start" textLength="74.0" lengthAdjust="spacingAndGlyphs" stroke="#000" stroke-width="0.15">Murine &#945;IIb</text>
<text x="1.6" y="485.9" font-size="22" font-weight="bold" fill="#000" text-anchor="start" textLength="18.2" lengthAdjust="spacingAndGlyphs" stroke="#000" stroke-width="0.9">D</text>
<text transform="translate(25.8,575.3) rotate(-90)" x="0" y="0" font-size="13.2" font-weight="bold" stroke="#000" stroke-width="0.2" textLength="84.7" lengthAdjust="spacingAndGlyphs">Platelet Count</text>
<line x1="29.2" y1="497" x2="29.2" y2="573.7" stroke="#000" stroke-width="1.5"/>
<polygon points="29.2,491.6 26.3,497.6 32.1,497.6" fill="#000"/>
<line x1="28.5" y1="573.7" x2="179" y2="573.7" stroke="#000" stroke-width="1.5"/>
<polygon points="187.2,573.7 177.5,570.1 177.5,577.3000000000001" fill="#000"/>
<line x1="195.4" y1="573.7" x2="342" y2="573.7" stroke="#000" stroke-width="1.5"/>
<polygon points="350.4,573.7 340.5,570.1 340.5,577.3000000000001" fill="#000"/>
<line x1="357.0" y1="573.0" x2="505" y2="573.0" stroke="#000" stroke-width="1.5"/>
<polygon points="513.6,573.0 503.8,569.4 503.8,576.6" fill="#000"/>
<polygon points="33.8,568.0 33.8,566.9 49.2,566.5 58.8,565.0 64.6,563.0 70.4,560.2 76.2,555.4 80.0,549.6 83.8,541.0 86.7,532.3 88.7,525.6 90.6,523.7 93.5,523.1 96.3,523.7 98.3,526.5 101.2,532.3 104.0,540.0 106.9,546.7 110.8,554.4 114.6,560.2 118.5,563.0 122.3,565.0 128.0,566.9 128.0,568.0" fill="#c6d2d2" stroke="none"/>
<polyline points="33.8,552.5 35.3,552.2 36.9,551.8 38.4,552.3 40.0,552.0 41.5,551.7 42.8,550.8 44.1,550.3 45.4,549.9 46.6,549.2 47.9,548.8 49.2,548.7 50.5,548.1 51.8,547.8 53.0,547.1 54.3,546.3 55.6,546.5 56.9,545.9 58.4,545.1 59.8,544.4 61.2,543.8 62.7,543.3 64.2,542.6 65.6,541.8 67.0,540.9 68.5,540.2 69.8,539.9 71.0,539.9 72.3,538.9 73.6,539.2 74.9,539.6 76.2,539.7 77.6,540.9 79.0,540.6 80.0,542.4 80.9,543.9 81.9,544.6 82.6,546.1 83.3,547.1 84.1,548.2 84.8,549.3 85.5,550.7 86.2,552.8 87.0,554.2 87.7,555.8 88.5,556.3 89.2,558.3 90.0,559.3 90.7,560.9 91.5,562.1 92.5,562.9 93.5,564.5 94.4,564.6 95.4,566.2 96.7,566.8 97.9,566.9 99.2,567.3" fill="none" stroke="#8a1a1a" stroke-width="1.3" stroke-linejoin="round" stroke-linecap="round"/>
<polyline points="33.8,566.9 35.2,566.9 36.6,567.3 38.0,566.6 39.4,566.9 40.8,566.9 42.2,566.6 43.6,566.8 45.0,566.5 46.4,566.6 47.8,566.6 49.2,566.7 50.6,566.1 51.9,566.2 53.3,565.9 54.7,565.4 56.1,565.5 57.4,565.0 58.8,565.4 60.2,564.5 61.7,564.2 63.1,563.5 64.6,563.0 66.0,562.0 67.5,561.3 69.0,561.3 70.4,560.2 71.6,559.3 72.7,558.3 73.9,557.6 75.0,556.1 76.2,555.1 77.0,554.5 77.7,553.0 78.5,552.0 79.2,551.1 80.0,550.0 80.5,548.7 81.1,546.7 81.6,545.8 82.2,545.0 82.7,543.7 83.3,541.9 83.8,540.7 84.2,539.5 84.6,538.2 85.0,537.1 85.5,536.3 85.9,534.8 86.3,533.5 86.7,531.9 87.1,530.9 87.5,530.1 87.9,528.5 88.3,526.9 88.7,525.6 89.7,524.9 90.6,523.9 92.0,523.1 93.5,523.3 94.9,523.3 96.3,523.7 97.3,524.9 98.3,526.4 99.0,527.8 99.8,529.3 100.5,530.4 101.2,532.0 101.7,533.6 102.1,534.5 102.6,535.9 103.1,537.6 103.5,538.5 104.0,539.8 104.6,541.1 105.2,543.0 105.7,543.7 106.3,545.5 106.9,547.0 107.6,547.7 108.2,549.2 108.8,550.8 109.5,551.9 110.2,553.0 110.8,554.0 111.6,555.5 112.3,556.6 113.1,558.1 113.8,558.9 114.6,560.1 115.9,561.3 117.2,562.3 118.5,562.9 119.8,563.6 121.0,564.4 122.3,565.4 123.7,565.2 125.2,566.4 126.6,566.6 128.0,566.9" fill="none" stroke="#000" stroke-width="2.0" stroke-linejoin="round" stroke-linecap="round"/>
<polyline points="128.0,567.6 129.3,567.5 130.7,567.7 132.0,567.3 133.3,567.1 134.7,567.7 136.0,567.3 137.0,566.5 138.0,565.6 139.1,565.1 140.1,564.1 141.1,562.6 141.8,561.9 142.6,560.7 143.3,559.5 144.0,558.7 144.8,557.2 145.5,556.1 145.9,555.2 146.3,553.4 146.8,552.2 147.2,550.9 147.6,549.9 148.1,548.5 148.5,547.2 148.9,545.6 149.2,544.0 149.6,543.3 149.9,541.9 150.2,540.8 150.5,539.5 150.8,537.6 151.2,536.4 151.5,535.0 151.8,534.3 152.1,532.4 152.4,531.0 152.7,530.3 152.9,528.7 153.2,526.9 153.5,526.2 153.8,524.8 154.1,523.3 154.3,521.6 154.5,520.9 154.7,519.3 154.9,518.2 155.2,517.2 155.4,515.8 155.6,514.5 155.8,512.6 156.1,511.3 156.4,510.0 156.7,508.1 157.0,507.5 157.3,505.4 157.6,504.0 158.2,502.7 158.9,501.4 159.5,500.6 160.2,499.1 161.5,498.2 162.8,497.2 163.9,498.2 165.0,499.7 165.3,501.5 165.6,502.8 165.8,504.1 166.1,504.9 166.4,506.1 166.7,507.3 166.9,509.1 167.2,510.3 167.4,511.7 167.6,513.1 167.9,514.5 168.1,515.6 168.3,517.4 168.6,518.2 168.8,520.2 169.1,521.2 169.3,522.2 169.6,523.8 169.8,525.3 170.1,526.6 170.4,528.1 170.6,529.3 170.9,530.6 171.1,532.5 171.4,533.4 171.8,535.1 172.2,536.6 172.6,537.7 173.0,538.9 173.3,540.7 173.7,541.6 174.1,543.4 174.5,544.0 174.9,545.6 175.4,547.1 175.9,547.8 176.3,549.8 176.8,550.3 177.3,552.1 177.8,552.9 178.2,554.9 178.7,555.8 179.2,557.3 179.9,558.1 180.7,559.4 181.4,560.5 182.2,561.3 182.9,562.3 183.7,564.0 184.4,564.5 185.7,565.8 187.0,565.8 188.3,566.4 189.6,567.4" fill="none" stroke="#2424b0" stroke-width="1.3" stroke-linejoin="round" stroke-linecap="round"/>
<polygon points="196.5,568.0 196.5,566.2 210.0,565.0 222.0,561.6 232.0,557.0 240.0,550.0 246.0,542.0 250.0,536.2 254.0,532.7 258.0,531.1 262.0,531.6 264.0,532.7 268.0,537.3 273.0,545.4 278.0,553.5 284.0,560.4 292.0,565.7 300.0,567.5 300.0,568.0" fill="#c6d2d2" stroke="none"/>
<polyline points="196.5,566.2 197.8,565.7 199.2,566.2 200.6,566.2 201.9,565.6 203.2,565.7 204.6,565.3 205.9,565.7 207.3,565.4 208.7,564.8 210.0,564.6 211.3,564.8 212.7,563.8 214.0,564.2 215.3,563.3 216.7,562.9 218.0,562.8 219.3,562.2 220.7,562.0 222.0,561.3 223.2,561.4 224.5,560.3 225.8,560.2 227.0,559.0 228.2,559.0 229.5,558.6 230.8,557.5 232.0,556.6 233.0,556.0 234.0,555.4 235.0,554.1 236.0,553.5 237.0,552.3 238.0,551.7 239.0,551.1 240.0,549.9 240.9,549.0 241.7,547.4 242.6,546.9 243.4,545.1 244.3,544.7 245.1,543.6 246.0,542.4 246.8,540.9 247.6,539.5 248.4,538.4 249.2,537.6 250.0,536.2 251.0,535.7 252.0,534.1 253.0,533.6 254.0,533.0 255.3,532.3 256.7,531.7 258.0,530.7 259.3,530.9 260.7,531.2 262.0,532.0 264.0,533.0 265.0,533.6 266.0,535.4 267.0,535.7 268.0,537.4 268.7,538.9 269.4,539.5 270.1,541.2 270.9,542.1 271.6,542.7 272.3,544.1 273.0,545.4 273.7,546.3 274.4,547.9 275.1,548.6 275.9,550.3 276.6,551.0 277.3,552.0 278.0,553.6 278.9,554.1 279.7,555.5 280.6,556.7 281.4,557.5 282.3,558.4 283.1,559.0 284.0,560.4 285.1,560.8 286.3,562.0 287.4,562.3 288.6,563.5 289.7,564.1 290.9,564.8 292.0,565.8 293.3,565.7 294.7,566.0 296.0,567.0 297.3,566.7 298.7,567.5 300.0,567.5" fill="none" stroke="#000" stroke-width="2.0" stroke-linejoin="round" stroke-linecap="round"/>
<polyline points="196.5,558.1 197.7,557.8 198.9,556.8 200.1,555.8 201.4,555.1 202.6,555.2 203.8,553.8 205.0,553.5 206.2,553.0 207.5,552.0 208.8,551.7 210.0,550.9 211.2,550.7 212.5,550.1 213.8,549.4 215.0,548.6 216.2,548.2 217.3,547.5 218.5,546.8 219.7,546.3 220.8,546.3 222.0,545.4 223.2,544.8 224.4,543.1 225.6,543.0 226.8,541.7 228.0,541.1 229.3,540.1 230.7,539.4 232.0,538.3 233.0,537.6 234.0,535.9 235.0,534.8 236.5,535.2 238.0,536.1 239.0,537.4 240.0,538.3 240.6,540.2 241.2,540.9 241.8,542.7 242.4,543.8 243.0,545.5 243.6,547.1 244.2,548.4 244.8,549.2 245.4,550.8 246.0,552.5 246.7,554.0 247.3,554.3 248.0,556.0 248.7,557.2 249.3,558.4 250.0,559.2 250.8,560.7 251.6,561.5 252.4,563.1 253.2,563.4 254.0,565.4 255.3,565.8 256.7,566.6 258.0,567.5" fill="none" stroke="#000" stroke-width="1.4" stroke-linejoin="round" stroke-linecap="round"/>
<polygon points="358.0,568.0 358.0,565.9 375.0,562.5 390.0,558.1 400.0,552.4 406.0,545.7 410.0,537.2 414.0,530.5 418.0,527.1 422.0,528.8 426.0,533.9 432.0,545.7 438.0,555.8 445.0,564.2 455.0,567.6 455.0,568.0" fill="#c6d2d2" stroke="none"/>
<polyline points="358.0,565.9 359.3,565.3 360.6,565.1 361.9,565.3 363.2,565.0 364.5,564.3 365.8,564.2 367.2,563.7 368.5,563.5 369.8,563.3 371.1,563.1 372.4,563.5 373.7,563.2 375.0,562.8 376.2,562.1 377.5,561.8 378.8,561.7 380.0,561.4 381.2,560.9 382.5,560.4 383.8,559.7 385.0,559.7 386.2,559.5 387.5,559.1 388.8,558.1 390.0,558.3 391.2,557.3 392.5,556.4 393.8,556.4 395.0,555.4 396.2,554.8 397.5,553.5 398.8,553.4 400.0,552.8 401.0,551.6 402.0,550.4 403.0,549.3 404.0,548.2 405.0,546.9 406.0,545.6 406.6,544.8 407.1,543.5 407.7,542.4 408.3,540.7 408.9,540.0 409.4,538.4 410.0,537.6 410.7,535.7 411.3,535.4 412.0,534.1 412.7,532.5 413.3,531.9 414.0,530.3 415.0,529.4 416.0,528.8 417.0,527.7 418.0,527.1 419.3,528.0 420.7,528.4 422.0,529.0 423.0,530.0 424.0,531.6 425.0,532.9 426.0,534.1 426.6,535.5 427.2,536.6 427.8,537.4 428.4,538.2 429.0,539.9 429.6,541.3 430.2,542.0 430.8,543.4 431.4,544.8 432.0,546.0 432.7,546.4 433.3,547.9 434.0,548.6 434.7,549.8 435.3,551.6 436.0,552.4 436.7,553.6 437.3,554.6 438.0,555.7 438.9,556.6 439.8,557.8 440.6,559.3 441.5,560.1 442.4,560.9 443.2,561.7 444.1,562.9 445.0,564.4 446.2,564.6 447.5,565.2 448.8,565.8 450.0,565.6 451.2,566.5 452.5,566.3 453.8,567.5 455.0,567.6" fill="none" stroke="#000" stroke-width="2.0" stroke-linejoin="round" stroke-linecap="round"/>
<polyline points="358.0,549.0 359.2,548.3 360.5,548.0 361.8,548.2 363.0,547.2 364.2,546.7 365.5,546.9 366.8,546.2 368.0,546.1 369.2,544.8 370.3,544.0 371.5,543.6 372.7,542.3 373.8,541.9 375.0,540.3 376.2,539.9 377.5,538.3 378.8,537.6 380.0,536.2 381.7,536.0 383.3,536.3 385.0,535.6 386.2,536.7 387.5,537.0 388.8,537.9 390.0,538.5 390.8,540.1 391.7,541.5 392.5,542.3 393.3,543.3 394.2,545.0 395.0,546.1 395.7,547.0 396.4,547.7 397.1,549.4 397.9,550.4 398.6,552.0 399.3,552.7 400.0,554.1 400.7,555.3 401.4,556.3 402.1,557.7 402.9,559.0 403.6,560.4 404.3,561.3 405.0,562.4 406.0,563.9 407.0,564.1 408.0,565.8 409.0,566.7 410.0,567.5" fill="none" stroke="#000" stroke-width="1.4" stroke-linejoin="round" stroke-linecap="round"/>
<line x1="33.8" y1="568.0" x2="192.3" y2="568.0" stroke="#000" stroke-width="1.8"/>
<line x1="33.8" y1="497.6" x2="33.8" y2="568.8" stroke="#000" stroke-width="1.6"/>
<line x1="196.3" y1="568.0" x2="352.5" y2="568.0" stroke="#000" stroke-width="1.8"/>
<line x1="196.3" y1="497.6" x2="196.3" y2="568.8" stroke="#000" stroke-width="1.6"/>
<line x1="357.8" y1="568.0" x2="517.0" y2="568.0" stroke="#000" stroke-width="1.8"/>
<line x1="357.8" y1="497.6" x2="357.8" y2="568.8" stroke="#000" stroke-width="1.6"/>
<text x="38.7" y="513.3" font-size="12.5" font-weight="bold" fill="#701616" text-anchor="start" textLength="25.9" lengthAdjust="spacingAndGlyphs">+ / +</text>
<text x="42.5" y="527.3" font-size="13.5" font-weight="bold" fill="#701616" text-anchor="start" textLength="18.3" lengthAdjust="spacingAndGlyphs">Mu</text>
<text x="75.2" y="505.2" font-size="13" font-weight="bold" font-style="italic" fill="#000" text-anchor="start" textLength="39.4" lengthAdjust="spacingAndGlyphs">Mu/Hu</text>
<text x="75.2" y="518.6" font-size="13.5" font-weight="bold" fill="#000" text-anchor="start" textLength="39.4" lengthAdjust="spacingAndGlyphs">&#945;IIb&#946;3</text>
<text x="130.4" y="513.3" font-size="12.5" font-weight="bold" fill="#1c1c8c" text-anchor="start" textLength="24.9" lengthAdjust="spacingAndGlyphs">+ / +</text>
<text x="134.2" y="527.3" font-size="13.5" font-weight="bold" fill="#1c1c8c" text-anchor="start" textLength="17.3" lengthAdjust="spacingAndGlyphs">Hu</text>
<text x="202.7" y="514.6" font-size="13" font-weight="bold" font-style="italic" fill="#000" text-anchor="start" textLength="36.3" lengthAdjust="spacingAndGlyphs">- RGD</text>
<text x="254.2" y="514.6" font-size="13" font-weight="bold" font-style="italic" fill="#000" text-anchor="start" textLength="38.6" lengthAdjust="spacingAndGlyphs">+ RGD</text>
<text x="360.2" y="514.0" font-size="13" font-weight="bold" font-style="italic" fill="#000" text-anchor="start" textLength="56.2" lengthAdjust="spacingAndGlyphs">- Agonist</text>
<text x="424.0" y="514.0" font-size="13" font-weight="bold" font-style="italic" fill="#000" text-anchor="start" textLength="59.0" lengthAdjust="spacingAndGlyphs">+ Agonist</text>
<text x="49.4" y="592.0" font-size="14" font-weight="bold" fill="#000" text-anchor="start" textLength="124.6" lengthAdjust="spacingAndGlyphs" stroke="#000" stroke-width="0.15">Human &#945;IIb&#946;3 (7E3)</text>
<text x="205.0" y="591.8" font-size="14" font-weight="bold" fill="#000" text-anchor="start" textLength="132.4" lengthAdjust="spacingAndGlyphs" stroke="#000" stroke-width="0.15">Human &#946;3 LIBS (D3)</text>
<text x="352.4" y="592.2" font-size="14" font-weight="bold" fill="#000" text-anchor="start" textLength="165.0" lengthAdjust="spacingAndGlyphs" stroke="#000" stroke-width="0.15">Murine &#945;IIb&#946;3 (PE-Jon/A)</text>
<text x="2.2" y="608.9" font-size="21.5" font-weight="bold" fill="#000" text-anchor="start" textLength="15.8" lengthAdjust="spacingAndGlyphs" stroke="#000" stroke-width="0.9">E</text>
<text transform="translate(25.8,698.3) rotate(-90)" x="0" y="0" font-size="13.2" font-weight="bold" stroke="#000" stroke-width="0.2" textLength="85.0" lengthAdjust="spacingAndGlyphs">Platelet Count</text>
<line x1="28.8" y1="620" x2="28.8" y2="697.5" stroke="#000" stroke-width="1.5"/>
<polygon points="28.8,614.8 25.900000000000002,620.8 31.7,620.8" fill="#000"/>
<line x1="28.1" y1="697.2" x2="180" y2="697.2" stroke="#000" stroke-width="1.5"/>
<polygon points="188.5,697.0 179.0,693.4 179.0,700.6" fill="#000"/>
<line x1="198.5" y1="696.6" x2="343" y2="696.6" stroke="#000" stroke-width="1.5"/>
<polygon points="352.0,696.6 342.5,693.0 342.5,700.2" fill="#000"/>
<line x1="359.5" y1="696.8" x2="507" y2="696.8" stroke="#000" stroke-width="1.5"/>
<polygon points="515.6,696.8 506.0,693.1999999999999 506.0,700.4" fill="#000"/>
<polygon points="35.0,691.0 35.0,678.5 36.2,676.9 42.3,672.3 48.5,666.2 54.6,659.2 60.8,653.1 66.2,648.5 70.0,650.8 74.6,651.5 77.7,655.4 80.8,661.5 83.8,667.7 86.9,673.8 90.0,679.2 94.6,683.8 100.8,686.9 106.9,689.2 115.0,690.3 130.0,691.0 130.0,691.0" fill="#e6eaec" stroke="none"/>
<polyline points="35.0,679.5 36.0,678.7 37.1,677.7 38.1,677.3 39.2,676.7 40.2,675.6 41.3,674.7 42.3,672.8 43.3,672.2 44.4,671.0 45.4,671.2 46.4,670.1 47.5,668.0 48.5,667.6 49.4,666.6 50.2,664.8 51.1,664.3 52.0,663.9 52.9,662.7 53.7,661.2 54.6,660.9 55.6,659.2 56.7,658.6 57.7,657.4 58.7,657.2 59.8,655.7 60.8,655.0 61.9,653.9 63.0,652.5 64.0,652.5 65.1,651.2 66.2,650.3 68.1,650.1 70.0,650.3 71.5,650.7 73.1,650.9 74.7,650.6 76.2,649.8 77.1,650.5 78.0,652.2 79.0,653.8 79.9,653.8 80.8,655.8 81.3,656.2 81.8,657.7 82.3,658.6 82.8,660.2 83.3,661.6 83.8,663.8 84.6,665.1 85.4,665.2 86.2,666.7 86.9,668.9 87.7,669.1 88.5,670.5 89.4,671.9 90.3,672.7 91.3,674.1 92.2,675.5 93.1,676.7 94.1,678.5 95.1,678.4 96.2,679.2 97.2,681.1 98.2,681.3 99.2,682.8 100.5,683.0 101.8,683.8 103.1,683.6 104.3,683.8 105.6,685.3 106.9,685.4 108.2,686.0 109.6,686.6 111.0,687.2 112.3,686.9 113.7,687.5 115.0,688.8 116.4,688.5 117.9,688.4 119.3,689.2 120.7,688.9 122.1,689.9 123.6,689.1 125.0,690.5 126.4,690.2 127.7,689.9 129.1,690.9 130.5,689.9 131.8,690.0 133.2,689.8 134.5,690.6 135.9,691.0 137.3,690.9 138.6,690.6 140.0,690.8" fill="none" stroke="#40dc24" stroke-width="1.5" stroke-linejoin="round" stroke-linecap="round"/>
<polyline points="34.6,677.9 35.8,676.8 37.0,674.8 38.2,674.2 39.5,673.8 40.7,673.3 41.9,671.9 42.9,671.0 44.0,670.1 45.0,668.5 46.0,668.3 47.1,667.0 48.1,665.4 49.0,664.4 49.8,664.1 50.7,662.4 51.6,661.1 52.5,661.2 53.3,659.6 54.2,658.6 55.2,657.8 56.3,657.2 57.3,655.0 58.3,654.3 59.4,652.9 60.4,652.4 61.5,651.6 62.6,651.2 63.6,650.0 64.7,648.9 65.8,647.8 67.1,648.8 68.3,649.1 69.6,650.7 71.1,650.9 72.7,651.2 74.2,650.4 75.2,652.5 76.3,653.9 77.3,654.8 77.9,656.6 78.5,657.8 79.2,658.8 79.8,660.2 80.4,661.1 81.0,662.7 81.6,662.8 82.2,664.9 82.8,666.2 83.4,667.3 84.0,668.0 84.6,668.9 85.3,670.9 85.9,672.5 86.5,672.9 87.3,674.1 88.0,675.5 88.8,676.6 89.6,678.9 90.5,680.2 91.4,680.9 92.4,681.1 93.3,682.6 94.2,682.6 95.4,684.3 96.7,684.2 97.9,684.3 99.2,685.9 100.4,685.8 101.6,686.4 102.8,686.6 104.1,687.6 105.3,688.2 106.5,689.1 107.8,688.1 109.2,689.5 110.5,688.6 111.9,688.9 113.2,689.7 114.6,689.5 116.0,689.5 117.3,689.9 118.7,689.5 120.1,690.4 121.4,689.6 122.8,690.6 124.1,690.6 125.5,690.3 126.9,689.6 128.2,690.8 129.6,690.4" fill="none" stroke="#8a1a1a" stroke-width="1.3" stroke-linejoin="round" stroke-linecap="round"/>
<polyline points="35.6,678.8 36.8,676.5 38.0,676.3 39.2,675.2 40.5,673.8 41.7,673.7 42.9,672.9 43.9,671.7 45.0,670.4 46.0,669.6 47.0,668.7 48.1,667.1 49.1,667.1 50.0,666.2 50.8,665.0 51.7,664.2 52.6,662.2 53.5,662.2 54.3,659.9 55.2,659.5 56.2,657.9 57.3,657.4 58.3,656.7 59.3,655.7 60.4,654.3 61.4,653.2 62.5,652.0 63.6,651.4 64.6,650.3 65.7,649.3 66.8,649.2 68.1,649.6 69.3,650.2 70.6,650.6 72.1,651.6 73.7,651.1 75.2,651.4 76.2,653.2 77.3,654.7 78.3,656.4 78.9,657.3 79.5,658.8 80.2,660.0 80.8,660.9 81.4,662.1 82.0,662.4 82.6,663.8 83.2,664.8 83.8,667.3 84.4,668.3 85.0,669.4 85.6,670.1 86.3,671.4 86.9,672.4 87.5,674.3 88.3,676.2 89.0,676.5 89.8,677.5 90.6,679.0 91.5,680.2 92.4,681.9 93.4,682.7 94.3,683.1 95.2,683.5 96.4,684.1 97.7,684.8 98.9,686.4 100.2,686.5 101.4,687.9 102.6,688.3 103.8,688.6 105.1,688.5 106.3,689.5 107.5,688.9 108.8,689.1 110.2,690.0 111.5,690.1 112.9,689.8 114.2,690.0 115.6,689.9 117.0,691.3 118.3,691.0 119.7,691.5 121.1,691.6 122.4,690.8 123.8,691.3 125.1,690.9 126.5,691.6 127.9,691.7 129.2,690.7 130.6,691.3" fill="none" stroke="#9a9a9a" stroke-width="1.0" stroke-linejoin="round" stroke-linecap="round"/>
<polyline points="35.0,678.5 36.2,676.2 37.4,675.6 38.6,675.2 39.9,674.0 41.1,672.5 42.3,672.8 43.3,671.7 44.4,670.2 45.4,668.6 46.4,668.8 47.5,667.3 48.5,665.6 49.4,664.9 50.2,664.4 51.1,663.8 52.0,662.2 52.9,661.4 53.7,659.8 54.6,658.8 55.6,658.8 56.7,657.0 57.7,655.6 58.7,655.3 59.8,653.6 60.8,652.6 61.9,652.1 63.0,651.4 64.0,650.5 65.1,649.7 66.2,648.4 67.5,648.6 68.7,650.4 70.0,650.1 71.5,651.0 73.1,651.1 74.6,651.8 75.6,653.1 76.7,653.7 77.7,655.6 78.3,656.9 78.9,657.8 79.6,658.5 80.2,660.9 80.8,661.6 81.4,662.1 82.0,663.6 82.6,666.0 83.2,666.1 83.8,667.5 84.4,669.4 85.0,670.6 85.7,671.6 86.3,672.9 86.9,673.1 87.7,674.5 88.5,677.2 89.2,678.3 90.0,678.5 90.9,679.4 91.8,680.7 92.8,682.6 93.7,682.5 94.6,684.1 95.8,685.1 97.1,685.2 98.3,686.3 99.6,685.9 100.8,686.4 102.0,686.6 103.2,688.2 104.5,687.7 105.7,689.4 106.9,689.5 108.2,688.9 109.6,690.0 111.0,689.2 112.3,690.0 113.7,689.5 115.0,690.7 116.4,690.9 117.7,691.1 119.1,689.7 120.5,691.1 121.8,690.7 123.2,691.2 124.5,690.7 125.9,691.0 127.3,691.0 128.6,691.4 130.0,691.0" fill="none" stroke="#000" stroke-width="1.4" stroke-linejoin="round" stroke-linecap="round"/>
<polygon points="197.5,691.0 197.5,688.3 205.0,687.5 214.2,685.4 220.0,683.0 223.8,679.6 229.6,673.8 235.0,666.9 238.5,657.7 241.9,649.6 244.2,643.8 247.7,639.2 251.1,634.6 253.5,632.9 256.9,633.5 259.2,636.9 260.4,639.2 262.7,635.8 265.0,638.1 267.3,643.8 269.6,648.5 271.9,651.9 274.2,656.5 276.5,660.0 278.8,663.4 281.1,666.9 283.4,672.7 285.8,676.1 289.2,679.6 291.5,683.0 295.0,685.4 300.0,688.3 306.0,690.0 306.0,691.0" fill="#e6eaec" stroke="none"/>
<polyline points="197.5,676.0 198.8,675.2 200.1,674.5 201.4,674.6 202.7,673.6 203.9,673.1 205.2,671.9 206.5,672.4 207.5,670.3 208.4,670.5 209.4,669.5 210.3,668.0 211.3,666.6 212.3,666.4 213.2,664.7 214.2,664.1 215.0,662.5 215.9,662.7 216.7,661.0 217.5,659.6 218.3,658.1 219.2,657.9 220.0,657.0 220.6,655.7 221.3,653.3 221.9,652.5 222.5,651.1 223.2,650.5 223.8,648.3 224.8,647.8 225.8,647.1 226.7,645.6 227.7,643.3 228.9,642.7 230.1,642.0 231.3,642.2 232.5,641.3 234.3,641.4 236.2,641.4 237.3,642.5 238.5,644.0 239.6,645.2 240.4,647.2 241.1,648.4 241.9,650.0 242.7,651.8 243.4,653.2 244.2,654.5 245.0,655.0 245.7,657.5 246.5,659.3 247.3,660.2 248.0,662.4 248.8,662.9 249.5,665.2 250.2,665.6 250.9,667.2 251.6,667.7 252.3,668.9 253.2,670.1 254.1,671.2 254.9,672.0 255.8,673.7 256.7,675.4 257.6,675.9 258.6,677.2 259.5,677.9 260.4,678.9 261.5,680.0 262.7,680.4 263.8,680.5 265.0,681.3 266.1,682.4 267.5,682.4 268.9,683.3 270.3,684.8 271.7,685.5 273.1,685.1 274.4,686.2 275.8,686.6 277.1,687.1 278.4,687.4 279.8,687.4 281.1,687.1 282.5,688.5 283.8,688.0 285.1,688.7 286.5,688.6 287.9,689.2 289.2,690.1 290.6,689.0 291.9,689.6 293.2,689.9 294.6,689.9 295.9,690.6 297.3,689.9 298.6,690.7 300.0,690.2" fill="none" stroke="#40dc24" stroke-width="1.2" stroke-linejoin="round" stroke-linecap="round"/>
<polyline points="228.0,690.0 229.3,689.8 230.7,689.8 232.0,688.1 233.3,687.8 234.7,687.5 236.0,687.9 237.3,686.2 238.7,686.1 240.0,686.3 241.0,685.8 242.0,683.7 243.0,683.2 244.0,682.7 245.0,681.8 245.4,680.5 245.9,679.2 246.3,677.1 246.7,675.7 247.1,674.0 247.6,673.6 248.0,671.6 248.3,670.2 248.7,669.8 249.0,667.9 249.3,666.4 249.7,665.1 250.0,663.5 250.6,662.4 251.2,660.4 251.8,658.7 252.3,657.4 252.9,656.0 253.5,655.2 254.1,653.5 254.6,652.1 255.2,651.3 255.8,650.7 256.3,648.9 256.9,647.0 257.7,646.2 258.4,643.8 259.2,642.1 260.4,641.2 261.5,640.2 262.7,639.5 263.5,637.6 264.2,636.5 265.0,634.0 266.1,634.1 267.3,632.1 269.1,633.4 270.8,632.8 272.5,633.1 274.2,631.3 275.4,633.2 276.5,634.1 277.7,634.9 278.6,635.4 279.4,636.2 280.2,637.6 281.1,639.8 281.9,639.9 282.6,641.8 283.4,642.8 284.1,644.1 284.8,644.5 285.5,645.6 286.2,646.7 286.9,649.2 287.6,649.7 288.3,651.5 289.0,652.7 289.7,653.6 290.4,654.7 291.1,655.8 291.7,658.2 292.4,658.3 293.0,660.7 293.7,660.9 294.3,662.6 295.0,662.9 295.6,665.1 296.2,665.6 296.9,667.1 297.5,668.6 298.1,669.3 298.8,670.8 299.4,672.9 300.0,673.5 300.7,674.7 301.4,676.4 302.1,676.7 302.9,677.7 303.6,678.9 304.3,680.2 305.0,681.3 306.2,682.5 307.3,683.1 308.5,684.5 309.7,684.0 310.8,685.7 312.0,686.8 313.2,686.4 314.5,686.5 315.8,687.6 317.0,687.6 318.2,688.6 319.5,689.4 320.8,688.9 322.0,690.0" fill="none" stroke="#9a9a9a" stroke-width="1.1" stroke-linejoin="round" stroke-linecap="round"/>
<polyline points="212.0,690.0 213.3,688.8 214.7,688.6 216.0,687.5 217.3,687.0 218.6,686.7 219.9,685.6 221.2,685.0 222.5,684.8 223.8,684.4 225.0,684.5 226.2,683.3 227.4,682.0 228.7,681.6 229.9,681.8 231.1,680.9 232.3,680.8 233.5,680.3 234.6,679.4 235.7,677.6 236.8,678.1 237.9,676.7 239.0,675.6 240.1,674.7 241.2,675.0 242.4,673.1 243.5,671.9 244.7,671.1 245.8,671.1 247.0,669.4 247.9,668.8 248.8,666.8 249.7,666.4 250.5,665.2 251.4,664.0 252.3,663.6 253.2,662.0 254.1,660.5 254.9,660.7 255.8,658.8 256.6,657.2 257.5,655.8 258.4,655.6 259.2,654.2 259.9,652.3 260.6,651.9 261.3,651.1 262.0,649.7 262.7,648.1 263.4,647.3 264.1,646.3 264.9,645.2 265.6,643.3 267.0,643.7 268.4,643.4 270.1,642.8 271.9,642.6 273.6,642.2 275.4,643.3 276.5,643.0 277.7,643.8 278.8,645.1 280.3,646.0 281.9,645.1 283.4,645.7 284.6,646.2 285.7,647.6 286.9,648.0 287.7,649.6 288.4,651.9 289.2,653.2 289.9,654.9 290.6,655.2 291.3,656.8 292.0,656.9 292.7,659.5 293.9,659.5 295.0,661.1 296.0,662.1 297.0,663.8 298.0,664.1 299.0,665.9 300.0,666.4 300.9,666.9 301.7,668.9 302.6,669.0 303.4,671.3 304.3,671.6 305.1,672.3 306.0,674.5 307.0,674.5 308.0,675.6 309.0,676.5 310.0,677.9 311.0,677.9 312.0,679.4 313.1,679.8 314.3,681.5 315.4,680.9 316.6,682.5 317.7,682.7 318.9,683.6 320.0,684.5 321.2,685.2 322.5,684.8 323.8,685.5 325.0,685.8 326.2,687.5 327.5,686.8 328.8,687.3 330.0,688.3 331.4,688.6 332.7,689.2 334.1,688.2 335.5,688.6 336.8,688.7 338.2,689.5 339.5,689.5 340.9,689.6 342.3,690.5 343.6,690.4 345.0,690.3" fill="none" stroke="#8a1a1a" stroke-width="1.2" stroke-linejoin="round" stroke-linecap="round"/>
<polyline points="197.5,688.3 199.0,688.7 200.5,688.7 202.0,687.5 203.5,688.3 205.0,687.4 206.3,686.5 207.6,687.5 208.9,686.0 210.3,685.6 211.6,685.7 212.9,685.4 214.2,686.1 215.6,685.4 217.1,684.1 218.6,683.6 220.0,683.5 221.3,682.3 222.5,681.0 223.8,679.6 224.8,678.1 225.7,677.3 226.7,676.9 227.7,675.9 228.6,675.2 229.6,674.4 230.5,673.3 231.4,671.0 232.3,669.7 233.2,669.8 234.1,668.2 235.0,666.4 235.5,665.9 236.0,663.9 236.5,662.6 237.0,661.4 237.5,660.4 238.0,659.3 238.5,657.1 239.1,656.7 239.6,655.2 240.2,653.6 240.8,652.6 241.3,651.4 241.9,648.9 242.5,648.1 243.1,647.0 243.6,645.6 244.2,644.0 245.1,642.2 245.9,642.2 246.8,640.8 247.7,638.8 248.5,637.9 249.4,637.6 250.2,635.3 251.1,634.5 252.3,634.4 253.5,633.5 255.2,632.8 256.9,633.9 257.7,634.4 258.4,636.0 259.2,637.3 260.4,638.6 261.2,637.7 261.9,636.5 262.7,635.4 263.9,636.3 265.0,637.6 265.6,639.4 266.1,640.8 266.7,641.7 267.3,643.9 267.9,645.6 268.5,646.3 269.0,647.1 269.6,648.8 270.4,649.5 271.1,650.3 271.9,651.9 272.7,652.7 273.4,655.2 274.2,656.0 275.0,657.5 275.7,659.5 276.5,660.4 277.3,661.6 278.0,662.5 278.8,663.6 279.6,664.9 280.3,666.4 281.1,666.4 281.7,668.7 282.2,669.5 282.8,670.9 283.4,673.2 284.2,674.0 285.0,675.5 285.8,676.7 286.9,677.4 288.1,678.0 289.2,678.9 290.0,680.8 290.7,682.2 291.5,682.7 292.7,683.2 293.8,683.9 295.0,684.9 296.2,686.4 297.5,686.1 298.8,687.2 300.0,687.9 301.5,689.0 303.0,689.9 304.5,688.9 306.0,690.0" fill="none" stroke="#000" stroke-width="2.4" stroke-linejoin="round" stroke-linecap="round"/>
<polygon points="358.8,691.0 358.8,686.5 367.5,686.5 373.3,684.8 379.1,683.0 383.7,680.7 388.3,678.4 390.6,673.8 392.9,670.4 396.4,666.9 399.8,662.3 402.1,657.7 405.6,653.1 409.1,649.0 412.5,646.1 416.0,641.5 419.2,635.6 422.1,632.2 423.6,634.1 425.0,639.4 426.4,641.3 427.9,637.5 428.8,636.1 429.8,639.2 431.5,643.8 435.0,649.6 437.3,655.4 440.2,661.1 443.0,665.8 446.0,670.4 448.8,675.0 451.7,679.6 454.6,683.0 458.0,686.0 462.7,687.7 468.4,689.4 475.0,690.2 475.0,691.0" fill="#e6eaec" stroke="none"/>
<polyline points="358.8,689.4 360.2,688.8 361.5,689.9 362.9,689.9 364.2,688.6 365.6,688.8 366.9,689.0 368.3,688.7 369.6,688.7 371.0,688.8 372.4,688.1 373.7,687.4 375.1,687.0 376.4,686.8 377.8,686.3 379.1,686.7 380.5,686.4 382.0,685.3 383.4,685.7 384.8,685.1 386.2,684.1 387.7,683.9 389.2,683.0 390.6,683.6 392.1,682.5 393.5,681.2 394.9,680.8 396.4,681.0 397.5,679.8 398.7,679.7 399.8,678.3 401.0,678.4 402.1,677.8 403.2,675.8 404.4,675.7 405.6,674.2 406.7,674.1 407.6,673.1 408.4,671.9 409.3,669.9 410.2,668.6 411.4,668.3 412.5,667.0 413.7,665.3 414.9,664.1 416.0,663.5 416.6,661.5 417.2,661.0 417.8,659.2 418.4,657.9 419.0,656.9 419.6,655.6 420.2,654.5 420.8,652.1 421.4,651.7 422.0,649.6 422.8,648.6 423.5,648.0 424.2,646.9 425.0,645.7 425.9,645.1 426.9,643.1 427.9,642.2 428.8,641.7 430.1,640.6 431.4,640.0 432.7,639.6 434.0,639.9 435.2,639.5 436.5,638.8 437.5,638.2 438.5,636.9 439.4,637.5 440.4,638.8 441.3,640.7 442.3,640.8 443.2,642.6 444.2,642.9 445.2,643.8 446.1,645.5 447.1,646.0 448.1,648.1 449.0,649.1 449.4,649.7 449.8,650.6 450.3,651.8 450.7,653.7 451.1,655.0 451.7,656.0 452.2,657.8 452.8,658.8 453.4,660.4 454.3,660.6 455.1,661.7 456.0,663.3 456.9,664.6 457.8,665.4 458.6,667.2 459.5,667.6 460.4,668.9 461.2,670.3 462.1,671.8 462.9,673.1 463.8,673.6 464.7,674.6 465.6,676.3 466.6,677.2 467.5,677.7 468.4,677.8 469.5,679.2 470.7,680.4 471.9,680.7 473.0,681.2 474.6,683.2 476.1,683.6 477.7,683.0 478.9,684.0 480.1,684.7 481.4,684.7 482.6,684.9 483.8,686.4 485.0,686.9 486.4,686.7 487.9,686.4 489.3,687.2 490.7,687.0 492.1,688.6 493.6,687.5 495.0,688.2 496.4,689.0 497.7,688.2 499.1,688.3 500.5,688.3 501.8,688.6 503.2,689.3 504.5,689.8 505.9,688.9 507.3,689.1 508.6,690.1 510.0,689.8" fill="none" stroke="#40dc24" stroke-width="1.2" stroke-linejoin="round" stroke-linecap="round"/>
<polyline points="358.8,685.4 360.0,684.8 361.3,684.2 362.5,683.3 363.8,683.0 365.0,683.6 366.3,681.8 367.5,681.5 368.7,681.6 369.8,681.1 371.0,680.4 372.1,679.1 373.3,679.1 374.5,677.6 375.6,676.2 376.8,675.6 377.9,675.0 379.1,674.2 380.1,672.1 381.0,671.0 382.0,671.0 382.9,668.6 383.9,668.5 384.8,666.7 385.6,665.4 386.3,664.2 387.1,663.4 387.9,663.0 388.6,660.6 389.4,660.5 390.3,658.6 391.1,657.2 392.0,656.9 392.9,655.2 393.6,653.6 394.3,652.5 395.0,651.7 395.7,650.4 396.4,648.6 397.1,646.4 397.8,646.1 398.4,644.5 399.1,643.5 399.8,642.2 401.0,640.1 402.1,639.8 403.3,638.6 405.0,637.1 406.7,636.7 407.9,637.5 409.0,638.2 410.2,639.0 411.4,639.4 412.5,640.3 413.7,642.1 414.4,642.7 415.0,644.3 415.7,646.0 416.3,647.1 417.0,647.6 417.5,650.0 418.1,651.2 418.6,652.8 419.1,653.7 419.6,655.1 420.1,656.6 420.7,657.1 421.2,659.0 422.1,659.8 422.9,661.6 423.8,661.7 424.6,663.5 425.5,664.3 426.4,666.2 427.2,666.7 428.1,668.6 428.8,669.8 429.5,670.9 430.1,671.0 430.8,673.3 431.5,674.2 432.4,675.2 433.2,676.3 434.1,676.6 435.0,679.0 436.1,679.5 437.3,680.4 438.5,681.2 439.6,682.9 440.8,683.6 441.9,684.5 443.1,684.2 444.2,685.2 445.6,685.6 447.1,686.0 448.6,686.9 450.0,687.0 451.3,688.4 452.7,687.9 454.0,688.0 455.3,688.3 456.7,689.6 458.0,689.5" fill="none" stroke="#9a9a9a" stroke-width="1.1" stroke-linejoin="round" stroke-linecap="round"/>
<polyline points="358.8,686.5 360.0,685.5 361.3,685.4 362.5,684.9 363.8,685.0 365.0,684.7 366.3,683.2 367.5,683.2 368.7,682.9 369.8,681.6 371.0,681.6 372.1,680.6 373.3,679.3 374.5,679.5 375.6,678.3 376.8,676.9 377.9,676.9 379.1,676.6 380.1,675.2 381.0,674.2 382.0,673.1 382.9,672.9 383.9,671.6 384.8,670.0 385.6,669.0 386.5,667.9 387.3,667.6 388.1,666.1 388.9,664.1 389.8,664.1 390.6,661.6 391.5,661.3 392.4,659.9 393.4,659.1 394.3,657.6 395.2,655.9 395.8,655.1 396.4,654.1 396.9,652.7 397.5,650.6 398.7,649.2 399.8,648.8 401.0,647.8 402.1,645.7 403.3,645.5 404.4,644.5 406.1,643.2 407.9,642.5 409.6,643.3 411.4,643.9 413.1,643.5 414.8,644.2 416.3,644.5 417.7,645.3 419.2,644.7 420.2,646.5 421.1,647.7 422.1,649.3 422.6,649.7 423.1,652.2 423.6,653.6 424.1,654.2 424.6,655.8 425.2,656.4 425.8,658.9 426.3,659.8 426.9,661.5 427.8,662.8 428.6,663.2 429.5,665.3 430.4,665.4 431.2,666.2 431.9,668.1 432.7,669.8 433.8,671.0 435.0,672.2 436.1,672.7 437.3,674.5 438.4,675.1 439.6,675.6 440.7,677.5 441.9,678.9 443.0,679.5 444.2,680.6 445.4,680.9 446.5,681.8 447.7,682.9 449.2,683.8 450.8,684.6 452.3,684.8 453.7,685.2 455.1,686.3 456.6,687.5 458.0,688.1 459.3,687.6 460.7,687.9 462.0,688.6 463.3,688.4 464.7,689.4 466.0,689.5" fill="none" stroke="#8a1a1a" stroke-width="1.2" stroke-linejoin="round" stroke-linecap="round"/>
<polyline points="358.8,686.5 360.2,687.1 361.7,686.1 363.1,686.6 364.6,686.8 366.1,686.9 367.5,686.8 368.9,686.4 370.4,685.3 371.9,685.7 373.3,685.4 374.8,683.7 376.2,684.6 377.7,683.4 379.1,682.4 380.6,681.6 382.2,681.9 383.7,681.0 385.2,679.4 386.8,679.1 388.3,678.6 389.1,677.6 389.8,675.1 390.6,674.2 391.4,672.3 392.1,671.1 392.9,669.9 394.1,669.1 395.2,668.2 396.4,666.6 397.2,665.2 398.1,664.2 398.9,662.8 399.8,661.8 400.6,660.5 401.3,659.2 402.1,657.2 403.0,656.5 403.9,655.3 404.7,655.0 405.6,653.1 406.5,652.7 407.4,651.0 408.2,649.6 409.1,649.1 410.2,647.5 411.4,646.6 412.5,645.5 413.4,645.3 414.2,644.5 415.1,642.5 416.0,641.3 416.6,640.2 417.3,638.9 417.9,638.2 418.6,636.6 419.2,635.1 420.2,635.0 421.1,633.4 422.1,631.5 423.6,634.6 424.0,635.8 424.3,636.5 424.6,638.3 425.0,640.0 426.4,641.2 426.9,639.9 427.4,638.5 427.9,637.6 428.8,636.3 429.3,638.0 429.8,639.9 430.4,640.2 430.9,642.1 431.5,644.3 432.2,645.4 432.9,646.3 433.6,647.5 434.3,648.2 435.0,650.3 435.6,651.1 436.1,652.4 436.7,653.5 437.3,654.8 438.0,657.4 438.8,658.7 439.5,659.0 440.2,660.8 440.9,662.2 441.6,663.4 442.3,664.4 443.0,666.4 443.8,666.7 444.5,668.1 445.2,669.9 446.0,670.6 446.7,671.5 447.4,672.4 448.1,673.7 448.8,675.2 449.5,676.6 450.2,676.9 451.0,678.3 451.7,679.4 452.7,680.5 453.6,682.5 454.6,683.1 455.7,683.7 456.9,684.7 458.0,686.5 459.6,686.1 461.1,687.4 462.7,687.0 464.1,687.7 465.5,687.9 467.0,689.4 468.4,688.9 469.7,689.2 471.0,689.1 472.4,689.5 473.7,690.4 475.0,690.2" fill="none" stroke="#000" stroke-width="2.4" stroke-linejoin="round" stroke-linecap="round"/>
<line x1="34.8" y1="691.0" x2="193.0" y2="691.0" stroke="#000" stroke-width="1.8"/>
<line x1="34.8" y1="623.5" x2="34.8" y2="691.8" stroke="#000" stroke-width="2.2"/>
<line x1="197.4" y1="691.0" x2="354.6" y2="691.0" stroke="#000" stroke-width="1.8"/>
<line x1="197.4" y1="619.6" x2="197.4" y2="691.8" stroke="#163816" stroke-width="2.2"/>
<line x1="358.8" y1="691.0" x2="517.4" y2="691.0" stroke="#000" stroke-width="1.8"/>
<line x1="358.8" y1="624.5" x2="358.8" y2="691.8" stroke="#000" stroke-width="2.2"/>
<text x="40.4" y="619.0" font-size="12.5" font-weight="bold" fill="#55d63a" text-anchor="start" textLength="17.3" lengthAdjust="spacingAndGlyphs">- / -</text>
<text x="41.0" y="632.1" font-size="14" font-weight="bold" fill="#55d63a" text-anchor="start" textLength="14.1" lengthAdjust="spacingAndGlyphs">(3)</text>
<text x="66.3" y="626.0999999999999" font-size="13.4" font-weight="bold" font-style="italic" fill="#000" text-anchor="start" textLength="43.1" lengthAdjust="spacingAndGlyphs" stroke="#000" stroke-width="0.3">MFI = 2</text>
<text x="116.8" y="619.0" font-size="12.5" font-weight="bold" fill="#414a54" text-anchor="start" textLength="20.9" lengthAdjust="spacingAndGlyphs">+ / -</text>
<text x="118.9" y="632.1" font-size="14" font-weight="bold" fill="#414a54" text-anchor="start" textLength="16.0" lengthAdjust="spacingAndGlyphs">(2)</text>
<text x="147.0" y="619.0" font-size="12.5" font-weight="bold" fill="#701616" text-anchor="start" textLength="24.5" lengthAdjust="spacingAndGlyphs">+ / +</text>
<text x="149.7" y="632.1" font-size="14" font-weight="bold" fill="#701616" text-anchor="start" textLength="16.0" lengthAdjust="spacingAndGlyphs">(3)</text>
<text x="203.0" y="619.0" font-size="12.5" font-weight="bold" fill="#55d63a" text-anchor="start" textLength="18.6" lengthAdjust="spacingAndGlyphs">- / -</text>
<text x="202.7" y="633.1" font-size="14" font-weight="bold" fill="#55d63a" text-anchor="start" textLength="15.299999999999999" lengthAdjust="spacingAndGlyphs">(4)</text>
<text x="230.8" y="625.9" font-size="13.4" font-weight="bold" font-style="italic" fill="#000" text-anchor="start" textLength="52.2" lengthAdjust="spacingAndGlyphs" stroke="#000" stroke-width="0.3">MFI = 14</text>
<text x="292.8" y="619.0" font-size="12.5" font-weight="bold" fill="#414a54" text-anchor="start" textLength="21.2" lengthAdjust="spacingAndGlyphs">+ / -</text>
<text x="295.7" y="633.1" font-size="14" font-weight="bold" fill="#414a54" text-anchor="start" textLength="22.3" lengthAdjust="spacingAndGlyphs">(29)</text>
<text x="322.3" y="619.0" font-size="12.5" font-weight="bold" fill="#701616" text-anchor="start" textLength="24.5" lengthAdjust="spacingAndGlyphs">+ / +</text>
<text x="323.5" y="633.1" font-size="14" font-weight="bold" fill="#701616" text-anchor="start" textLength="21.8" lengthAdjust="spacingAndGlyphs">(33)</text>
<text x="361.4" y="617.8" font-size="12.5" font-weight="bold" fill="#414a54" text-anchor="start" textLength="22.9" lengthAdjust="spacingAndGlyphs">+ / -</text>
<text x="364.4" y="633.1" font-size="14" font-weight="bold" fill="#414a54" text-anchor="start" textLength="14.7" lengthAdjust="spacingAndGlyphs">(6)</text>
<text x="386.0" y="617.8" font-size="12.5" font-weight="bold" fill="#701616" text-anchor="start" textLength="25.4" lengthAdjust="spacingAndGlyphs">+ / +</text>
<text x="390.5" y="633.1" font-size="14" font-weight="bold" fill="#701616" text-anchor="start" textLength="14.799999999999999" lengthAdjust="spacingAndGlyphs">(8)</text>
<text x="417.0" y="626.6999999999999" font-size="13.4" font-weight="bold" font-style="italic" fill="#000" text-anchor="start" textLength="51.3" lengthAdjust="spacingAndGlyphs" stroke="#000" stroke-width="0.3">MFI = 13</text>
<text x="478.0" y="617.8" font-size="12.5" font-weight="bold" fill="#55d63a" text-anchor="start" textLength="18.4" lengthAdjust="spacingAndGlyphs">- / -</text>
<text x="477.7" y="633.1" font-size="14" font-weight="bold" fill="#55d63a" text-anchor="start" textLength="21.3" lengthAdjust="spacingAndGlyphs">(31)</text>
<text x="80.6" y="712.7" font-size="14" font-weight="bold" fill="#000" text-anchor="start" textLength="64.8" lengthAdjust="spacingAndGlyphs" stroke="#000" stroke-width="0.15">Ig Control</text>
<text x="238.7" y="714.5" font-size="14" font-weight="bold" fill="#000" text-anchor="start" textLength="71.7" lengthAdjust="spacingAndGlyphs" stroke="#000" stroke-width="0.15">Fibrinogen</text>
<text x="367.7" y="714.0" font-size="14" font-weight="bold" fill="#000" text-anchor="start" textLength="139.3" lengthAdjust="spacingAndGlyphs" stroke="#000" stroke-width="0.15">von Willebrand Factor</text>
</g></svg>
</body></html>
